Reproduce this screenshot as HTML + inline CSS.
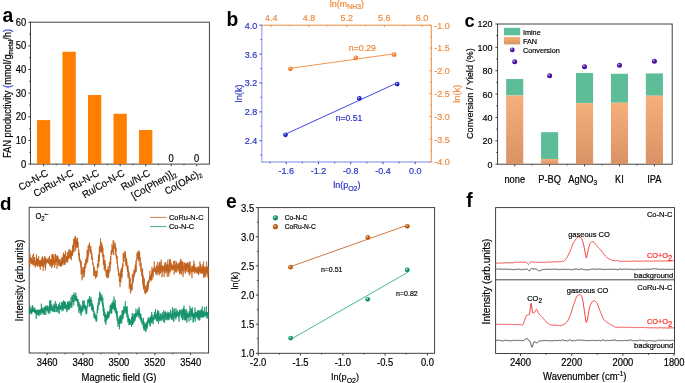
<!DOCTYPE html>
<html><head><meta charset="utf-8"><style>
html,body{margin:0;padding:0;background:#fff;width:685px;height:383px;overflow:hidden}
svg{display:block;font-family:"Liberation Sans", sans-serif}
#w{will-change:transform;background:transparent;width:685px;height:383px}
</style></head><body>
<div id="w"><svg width="685" height="383" viewBox="0 0 685 383">
<defs>
<radialGradient id="gb" cx="0.38" cy="0.35" r="0.65"><stop offset="0" stop-color="#c8c8ff"/><stop offset="0.45" stop-color="#2424c0"/><stop offset="1" stop-color="#2424c0"/></radialGradient>
<radialGradient id="go" cx="0.38" cy="0.35" r="0.65"><stop offset="0" stop-color="#ffe0c0"/><stop offset="0.45" stop-color="#ef8030"/><stop offset="1" stop-color="#ef8030"/></radialGradient>
<radialGradient id="gp" cx="0.38" cy="0.35" r="0.65"><stop offset="0" stop-color="#d8c0ff"/><stop offset="0.45" stop-color="#4a10a0"/><stop offset="1" stop-color="#4a10a0"/></radialGradient>
<radialGradient id="gg" cx="0.38" cy="0.35" r="0.65"><stop offset="0" stop-color="#c0ffe8"/><stop offset="0.45" stop-color="#12906a"/><stop offset="1" stop-color="#12906a"/></radialGradient>
<radialGradient id="gr" cx="0.38" cy="0.35" r="0.65"><stop offset="0" stop-color="#ffd8b0"/><stop offset="0.45" stop-color="#b85a18"/><stop offset="1" stop-color="#b85a18"/></radialGradient>
<linearGradient id="fan" x1="0" y1="0" x2="0" y2="1"><stop offset="0" stop-color="#f6b07c"/><stop offset="1" stop-color="#d99264"/></linearGradient>
</defs>
<text font-size="19.3" text-anchor="start" fill="#000" font-weight="bold" stroke="#000" stroke-width="0" transform="translate(2.50 21.50) scale(1 1.0)">a</text>
<rect x="30.50" y="22.20" width="178.90" height="141.90" fill="none" stroke="#383838" stroke-width="0.95"/>
<line x1="28.30" y1="164.10" x2="30.50" y2="164.10" stroke="#383838" stroke-width="0.95"/>
<text font-size="9.4" text-anchor="end" fill="#000" font-weight="normal" stroke="#000" stroke-width="0.18" transform="translate(26.30 167.70) scale(1 1.08)">0</text>
<line x1="28.30" y1="140.45" x2="30.50" y2="140.45" stroke="#383838" stroke-width="0.95"/>
<text font-size="9.4" text-anchor="end" fill="#000" font-weight="normal" stroke="#000" stroke-width="0.18" transform="translate(26.30 144.05) scale(1 1.08)">10</text>
<line x1="28.30" y1="116.80" x2="30.50" y2="116.80" stroke="#383838" stroke-width="0.95"/>
<text font-size="9.4" text-anchor="end" fill="#000" font-weight="normal" stroke="#000" stroke-width="0.18" transform="translate(26.30 120.40) scale(1 1.08)">20</text>
<line x1="28.30" y1="93.15" x2="30.50" y2="93.15" stroke="#383838" stroke-width="0.95"/>
<text font-size="9.4" text-anchor="end" fill="#000" font-weight="normal" stroke="#000" stroke-width="0.18" transform="translate(26.30 96.75) scale(1 1.08)">30</text>
<line x1="28.30" y1="69.50" x2="30.50" y2="69.50" stroke="#383838" stroke-width="0.95"/>
<text font-size="9.4" text-anchor="end" fill="#000" font-weight="normal" stroke="#000" stroke-width="0.18" transform="translate(26.30 73.10) scale(1 1.08)">40</text>
<line x1="28.30" y1="45.85" x2="30.50" y2="45.85" stroke="#383838" stroke-width="0.95"/>
<text font-size="9.4" text-anchor="end" fill="#000" font-weight="normal" stroke="#000" stroke-width="0.18" transform="translate(26.30 49.45) scale(1 1.08)">50</text>
<line x1="28.30" y1="22.20" x2="30.50" y2="22.20" stroke="#383838" stroke-width="0.95"/>
<text font-size="9.4" text-anchor="end" fill="#000" font-weight="normal" stroke="#000" stroke-width="0.18" transform="translate(26.30 25.80) scale(1 1.08)">60</text>
<line x1="29.20" y1="152.28" x2="30.50" y2="152.28" stroke="#383838" stroke-width="0.95"/>
<line x1="29.20" y1="128.62" x2="30.50" y2="128.62" stroke="#383838" stroke-width="0.95"/>
<line x1="29.20" y1="104.97" x2="30.50" y2="104.97" stroke="#383838" stroke-width="0.95"/>
<line x1="29.20" y1="81.32" x2="30.50" y2="81.32" stroke="#383838" stroke-width="0.95"/>
<line x1="29.20" y1="57.67" x2="30.50" y2="57.67" stroke="#383838" stroke-width="0.95"/>
<line x1="29.20" y1="34.02" x2="30.50" y2="34.02" stroke="#383838" stroke-width="0.95"/>
<rect x="36.95" y="120.11" width="13.30" height="43.99" fill="#ff7f00"/>
<line x1="43.60" y1="164.10" x2="43.60" y2="166.30" stroke="#383838" stroke-width="0.95"/>
<line x1="56.36" y1="164.10" x2="56.36" y2="165.30" stroke="#383838" stroke-width="0.95"/>
<text stroke="#000" stroke-width="0.18" font-size="9.5" text-anchor="end" transform="translate(48.90 175.0) rotate(-30) scale(1 1.08)">Co-N-C</text>
<rect x="62.47" y="51.76" width="13.30" height="112.34" fill="#ff7f00"/>
<line x1="69.12" y1="164.10" x2="69.12" y2="166.30" stroke="#383838" stroke-width="0.95"/>
<line x1="81.88" y1="164.10" x2="81.88" y2="165.30" stroke="#383838" stroke-width="0.95"/>
<text stroke="#000" stroke-width="0.18" font-size="9.5" text-anchor="end" transform="translate(74.42 175.0) rotate(-30) scale(1 1.08)">CoRu-N-C</text>
<rect x="87.99" y="95.04" width="13.30" height="69.06" fill="#ff7f00"/>
<line x1="94.64" y1="164.10" x2="94.64" y2="166.30" stroke="#383838" stroke-width="0.95"/>
<line x1="107.40" y1="164.10" x2="107.40" y2="165.30" stroke="#383838" stroke-width="0.95"/>
<text stroke="#000" stroke-width="0.18" font-size="9.5" text-anchor="end" transform="translate(99.94 175.0) rotate(-30) scale(1 1.08)">Ru-N-C</text>
<rect x="113.51" y="113.73" width="13.30" height="50.37" fill="#ff7f00"/>
<line x1="120.16" y1="164.10" x2="120.16" y2="166.30" stroke="#383838" stroke-width="0.95"/>
<line x1="132.92" y1="164.10" x2="132.92" y2="165.30" stroke="#383838" stroke-width="0.95"/>
<text stroke="#000" stroke-width="0.18" font-size="9.5" text-anchor="end" transform="translate(125.46 175.0) rotate(-30) scale(1 1.08)">Ru/Co-N-C</text>
<rect x="139.03" y="130.04" width="13.30" height="34.06" fill="#ff7f00"/>
<line x1="145.68" y1="164.10" x2="145.68" y2="166.30" stroke="#383838" stroke-width="0.95"/>
<line x1="158.44" y1="164.10" x2="158.44" y2="165.30" stroke="#383838" stroke-width="0.95"/>
<text stroke="#000" stroke-width="0.18" font-size="9.5" text-anchor="end" transform="translate(150.98 175.0) rotate(-30) scale(1 1.08)">Ru/N-C</text>
<text font-size="9.4" text-anchor="middle" fill="#000" font-weight="normal" stroke="#000" stroke-width="0.18" transform="translate(171.20 162.20) scale(1 1.08)">0</text>
<line x1="171.20" y1="164.10" x2="171.20" y2="166.30" stroke="#383838" stroke-width="0.95"/>
<line x1="183.96" y1="164.10" x2="183.96" y2="165.30" stroke="#383838" stroke-width="0.95"/>
<text stroke="#000" stroke-width="0.18" font-size="9.5" text-anchor="end" transform="translate(176.50 175.0) rotate(-30) scale(1 1.08)">[Co(Phen)]<tspan font-size="6" dy="2">2</tspan></text>
<text font-size="9.4" text-anchor="middle" fill="#000" font-weight="normal" stroke="#000" stroke-width="0.18" transform="translate(196.72 162.20) scale(1 1.08)">0</text>
<line x1="196.72" y1="164.10" x2="196.72" y2="166.30" stroke="#383838" stroke-width="0.95"/>
<text stroke="#000" stroke-width="0.18" font-size="9.5" text-anchor="end" transform="translate(202.02 175.0) rotate(-30) scale(1 1.08)">Co(OAc)<tspan font-size="6" dy="2">2</tspan></text>
<text stroke="#000" stroke-width="0.18" font-size="9.3" text-anchor="middle" transform="translate(10.7 93.5) rotate(-90) scale(1 1.08)">FAN productivity <tspan fill="#2020e0" stroke="#2020e0">(</tspan>mmol/g<tspan font-size="6" dy="2">metal</tspan><tspan dy="-2">/h</tspan><tspan fill="#2020e0" stroke="#2020e0">)</tspan></text>
<text font-size="19.3" text-anchor="start" fill="#000" font-weight="bold" stroke="#000" stroke-width="0" transform="translate(226.50 26.10) scale(1 1.0)">b</text>
<line x1="261.80" y1="25.20" x2="431.30" y2="25.20" stroke="#f08a3c" stroke-width="1.0"/>
<line x1="431.30" y1="25.20" x2="431.30" y2="162.00" stroke="#f08a3c" stroke-width="1.0"/>
<line x1="261.80" y1="162.00" x2="431.30" y2="162.00" stroke="#a9b0ec" stroke-width="1.4"/>
<line x1="261.80" y1="24.70" x2="261.80" y2="162.70" stroke="#a9b0ec" stroke-width="1.4"/>
<line x1="259.40" y1="25.20" x2="261.80" y2="25.20" stroke="#2a32c4" stroke-width="0.9"/>
<text font-size="9.0" text-anchor="end" fill="#2a32c4" font-weight="normal" stroke="#2a32c4" stroke-width="0.18" transform="translate(257.30 28.65) scale(1 1.08)">4.0</text>
<line x1="259.40" y1="54.08" x2="261.80" y2="54.08" stroke="#2a32c4" stroke-width="0.9"/>
<text font-size="9.0" text-anchor="end" fill="#2a32c4" font-weight="normal" stroke="#2a32c4" stroke-width="0.18" transform="translate(257.30 57.53) scale(1 1.08)">3.6</text>
<line x1="259.40" y1="82.96" x2="261.80" y2="82.96" stroke="#2a32c4" stroke-width="0.9"/>
<text font-size="9.0" text-anchor="end" fill="#2a32c4" font-weight="normal" stroke="#2a32c4" stroke-width="0.18" transform="translate(257.30 86.41) scale(1 1.08)">3.2</text>
<line x1="259.40" y1="111.84" x2="261.80" y2="111.84" stroke="#2a32c4" stroke-width="0.9"/>
<text font-size="9.0" text-anchor="end" fill="#2a32c4" font-weight="normal" stroke="#2a32c4" stroke-width="0.18" transform="translate(257.30 115.29) scale(1 1.08)">2.8</text>
<line x1="259.40" y1="140.72" x2="261.80" y2="140.72" stroke="#2a32c4" stroke-width="0.9"/>
<text font-size="9.0" text-anchor="end" fill="#2a32c4" font-weight="normal" stroke="#2a32c4" stroke-width="0.18" transform="translate(257.30 144.17) scale(1 1.08)">2.4</text>
<line x1="260.50" y1="39.64" x2="261.80" y2="39.64" stroke="#2a32c4" stroke-width="0.9"/>
<line x1="260.50" y1="68.52" x2="261.80" y2="68.52" stroke="#2a32c4" stroke-width="0.9"/>
<line x1="260.50" y1="97.40" x2="261.80" y2="97.40" stroke="#2a32c4" stroke-width="0.9"/>
<line x1="260.50" y1="126.28" x2="261.80" y2="126.28" stroke="#2a32c4" stroke-width="0.9"/>
<line x1="260.50" y1="155.16" x2="261.80" y2="155.16" stroke="#2a32c4" stroke-width="0.9"/>
<line x1="286.24" y1="162.00" x2="286.24" y2="164.20" stroke="#2a32c4" stroke-width="0.9"/>
<text font-size="9.0" text-anchor="middle" fill="#2a32c4" font-weight="normal" stroke="#2a32c4" stroke-width="0.18" transform="translate(286.24 173.75) scale(1 1.08)">-1.6</text>
<line x1="318.48" y1="162.00" x2="318.48" y2="164.20" stroke="#2a32c4" stroke-width="0.9"/>
<text font-size="9.0" text-anchor="middle" fill="#2a32c4" font-weight="normal" stroke="#2a32c4" stroke-width="0.18" transform="translate(318.48 173.75) scale(1 1.08)">-1.2</text>
<line x1="350.72" y1="162.00" x2="350.72" y2="164.20" stroke="#2a32c4" stroke-width="0.9"/>
<text font-size="9.0" text-anchor="middle" fill="#2a32c4" font-weight="normal" stroke="#2a32c4" stroke-width="0.18" transform="translate(350.72 173.75) scale(1 1.08)">-0.8</text>
<line x1="382.96" y1="162.00" x2="382.96" y2="164.20" stroke="#2a32c4" stroke-width="0.9"/>
<text font-size="9.0" text-anchor="middle" fill="#2a32c4" font-weight="normal" stroke="#2a32c4" stroke-width="0.18" transform="translate(382.96 173.75) scale(1 1.08)">-0.4</text>
<line x1="415.20" y1="162.00" x2="415.20" y2="164.20" stroke="#2a32c4" stroke-width="0.9"/>
<text font-size="9.0" text-anchor="middle" fill="#2a32c4" font-weight="normal" stroke="#2a32c4" stroke-width="0.18" transform="translate(415.20 173.75) scale(1 1.08)">0.0</text>
<line x1="270.12" y1="162.00" x2="270.12" y2="163.30" stroke="#2a32c4" stroke-width="0.9"/>
<line x1="302.36" y1="162.00" x2="302.36" y2="163.30" stroke="#2a32c4" stroke-width="0.9"/>
<line x1="334.60" y1="162.00" x2="334.60" y2="163.30" stroke="#2a32c4" stroke-width="0.9"/>
<line x1="366.84" y1="162.00" x2="366.84" y2="163.30" stroke="#2a32c4" stroke-width="0.9"/>
<line x1="399.08" y1="162.00" x2="399.08" y2="163.30" stroke="#2a32c4" stroke-width="0.9"/>
<line x1="271.20" y1="25.20" x2="271.20" y2="27.20" stroke="#f08a3c" stroke-width="0.9"/>
<text font-size="9.0" text-anchor="middle" fill="#f08a3c" font-weight="normal" stroke="#f08a3c" stroke-width="0.18" transform="translate(271.20 20.95) scale(1 1.08)">4.4</text>
<line x1="308.92" y1="25.20" x2="308.92" y2="27.20" stroke="#f08a3c" stroke-width="0.9"/>
<text font-size="9.0" text-anchor="middle" fill="#f08a3c" font-weight="normal" stroke="#f08a3c" stroke-width="0.18" transform="translate(308.92 20.95) scale(1 1.08)">4.8</text>
<line x1="346.64" y1="25.20" x2="346.64" y2="27.20" stroke="#f08a3c" stroke-width="0.9"/>
<text font-size="9.0" text-anchor="middle" fill="#f08a3c" font-weight="normal" stroke="#f08a3c" stroke-width="0.18" transform="translate(346.64 20.95) scale(1 1.08)">5.2</text>
<line x1="384.36" y1="25.20" x2="384.36" y2="27.20" stroke="#f08a3c" stroke-width="0.9"/>
<text font-size="9.0" text-anchor="middle" fill="#f08a3c" font-weight="normal" stroke="#f08a3c" stroke-width="0.18" transform="translate(384.36 20.95) scale(1 1.08)">5.6</text>
<line x1="422.08" y1="25.20" x2="422.08" y2="27.20" stroke="#f08a3c" stroke-width="0.9"/>
<text font-size="9.0" text-anchor="middle" fill="#f08a3c" font-weight="normal" stroke="#f08a3c" stroke-width="0.18" transform="translate(422.08 20.95) scale(1 1.08)">6.0</text>
<line x1="290.06" y1="25.20" x2="290.06" y2="26.50" stroke="#f08a3c" stroke-width="0.9"/>
<line x1="327.78" y1="25.20" x2="327.78" y2="26.50" stroke="#f08a3c" stroke-width="0.9"/>
<line x1="365.50" y1="25.20" x2="365.50" y2="26.50" stroke="#f08a3c" stroke-width="0.9"/>
<line x1="403.22" y1="25.20" x2="403.22" y2="26.50" stroke="#f08a3c" stroke-width="0.9"/>
<line x1="429.30" y1="25.20" x2="431.30" y2="25.20" stroke="#f08a3c" stroke-width="0.9"/>
<text font-size="9.0" text-anchor="start" fill="#f08a3c" font-weight="normal" stroke="#f08a3c" stroke-width="0.18" transform="translate(434.30 28.65) scale(1 1.08)">-1.0</text>
<line x1="430.00" y1="36.60" x2="431.30" y2="36.60" stroke="#f08a3c" stroke-width="0.9"/>
<line x1="429.30" y1="48.00" x2="431.30" y2="48.00" stroke="#f08a3c" stroke-width="0.9"/>
<text font-size="9.0" text-anchor="start" fill="#f08a3c" font-weight="normal" stroke="#f08a3c" stroke-width="0.18" transform="translate(434.30 51.45) scale(1 1.08)">-1.5</text>
<line x1="430.00" y1="59.40" x2="431.30" y2="59.40" stroke="#f08a3c" stroke-width="0.9"/>
<line x1="429.30" y1="70.80" x2="431.30" y2="70.80" stroke="#f08a3c" stroke-width="0.9"/>
<text font-size="9.0" text-anchor="start" fill="#f08a3c" font-weight="normal" stroke="#f08a3c" stroke-width="0.18" transform="translate(434.30 74.25) scale(1 1.08)">-2.0</text>
<line x1="430.00" y1="82.20" x2="431.30" y2="82.20" stroke="#f08a3c" stroke-width="0.9"/>
<line x1="429.30" y1="93.60" x2="431.30" y2="93.60" stroke="#f08a3c" stroke-width="0.9"/>
<text font-size="9.0" text-anchor="start" fill="#f08a3c" font-weight="normal" stroke="#f08a3c" stroke-width="0.18" transform="translate(434.30 97.05) scale(1 1.08)">-2.5</text>
<line x1="430.00" y1="105.00" x2="431.30" y2="105.00" stroke="#f08a3c" stroke-width="0.9"/>
<line x1="429.30" y1="116.40" x2="431.30" y2="116.40" stroke="#f08a3c" stroke-width="0.9"/>
<text font-size="9.0" text-anchor="start" fill="#f08a3c" font-weight="normal" stroke="#f08a3c" stroke-width="0.18" transform="translate(434.30 119.85) scale(1 1.08)">-3.0</text>
<line x1="430.00" y1="127.80" x2="431.30" y2="127.80" stroke="#f08a3c" stroke-width="0.9"/>
<line x1="429.30" y1="139.20" x2="431.30" y2="139.20" stroke="#f08a3c" stroke-width="0.9"/>
<text font-size="9.0" text-anchor="start" fill="#f08a3c" font-weight="normal" stroke="#f08a3c" stroke-width="0.18" transform="translate(434.30 142.65) scale(1 1.08)">-3.5</text>
<line x1="430.00" y1="150.60" x2="431.30" y2="150.60" stroke="#f08a3c" stroke-width="0.9"/>
<line x1="429.30" y1="162.00" x2="431.30" y2="162.00" stroke="#f08a3c" stroke-width="0.9"/>
<text font-size="9.0" text-anchor="start" fill="#f08a3c" font-weight="normal" stroke="#f08a3c" stroke-width="0.18" transform="translate(434.30 165.45) scale(1 1.08)">-4.0</text>
<text font-size="9.0" text-anchor="middle" fill="#f08a3c" font-weight="normal" stroke="#f08a3c" stroke-width="0.18" transform="translate(346.90 6.90) scale(1 1.08)">ln(m<tspan font-size="6.8" dy="2.0">NH3</tspan><tspan dy="-2.0">)</tspan></text>
<text font-size="9.0" text-anchor="middle" fill="#2a32c4" font-weight="normal" stroke="#2a32c4" stroke-width="0.18" transform="translate(346.80 187.80) scale(1 1.08)">ln(p<tspan font-size="7" dy="2.5">O2</tspan><tspan dy="-2.5">)</tspan></text>
<text stroke="#2a32c4" stroke-width="0.18" font-size="9.3" text-anchor="middle" fill="#2a32c4" transform="translate(241.6 93.4) rotate(-90)">ln(k)</text>
<text stroke="#f08a3c" stroke-width="0.18" font-size="9.3" text-anchor="middle" fill="#f08a3c" transform="translate(459.6 93.8) rotate(-90)">ln(k)</text>
<line x1="285.50" y1="134.17" x2="397.20" y2="82.86" stroke="#2a32e0" stroke-width="0.9"/>
<line x1="290.40" y1="68.29" x2="394.20" y2="53.83" stroke="#f08a3c" stroke-width="0.9"/>
<circle cx="285.50" cy="134.80" r="2.4" fill="url(#gb)"/>
<circle cx="359.30" cy="98.40" r="2.4" fill="url(#gb)"/>
<circle cx="397.20" cy="84.10" r="2.4" fill="url(#gb)"/>
<circle cx="290.40" cy="68.80" r="2.4" fill="url(#go)"/>
<circle cx="355.80" cy="57.80" r="2.4" fill="url(#go)"/>
<circle cx="394.20" cy="54.70" r="2.4" fill="url(#go)"/>
<text font-size="8.8" text-anchor="start" fill="#f08a3c" font-weight="normal" stroke="#f08a3c" stroke-width="0.18" transform="translate(348.80 50.96) scale(1 1.08)">n=0.29</text>
<text font-size="8.6" text-anchor="start" fill="#2a32c4" font-weight="normal" stroke="#2a32c4" stroke-width="0.18" transform="translate(335.70 121.26) scale(1 1.08)">n=0.51</text>
<text font-size="18.4" text-anchor="start" fill="#000" font-weight="bold" stroke="#000" stroke-width="0" transform="translate(464.40 26.50) scale(1 1.0)">c</text>
<rect x="497.60" y="24.00" width="174.60" height="140.20" fill="none" stroke="#383838" stroke-width="0.95"/>
<line x1="495.40" y1="164.20" x2="497.60" y2="164.20" stroke="#383838" stroke-width="0.95"/>
<text font-size="9.0" text-anchor="end" fill="#000" font-weight="normal" stroke="#000" stroke-width="0.18" transform="translate(492.40 167.65) scale(1 1.08)">0</text>
<line x1="495.40" y1="140.83" x2="497.60" y2="140.83" stroke="#383838" stroke-width="0.95"/>
<text font-size="9.0" text-anchor="end" fill="#000" font-weight="normal" stroke="#000" stroke-width="0.18" transform="translate(492.40 144.28) scale(1 1.08)">20</text>
<line x1="495.40" y1="117.47" x2="497.60" y2="117.47" stroke="#383838" stroke-width="0.95"/>
<text font-size="9.0" text-anchor="end" fill="#000" font-weight="normal" stroke="#000" stroke-width="0.18" transform="translate(492.40 120.92) scale(1 1.08)">40</text>
<line x1="495.40" y1="94.10" x2="497.60" y2="94.10" stroke="#383838" stroke-width="0.95"/>
<text font-size="9.0" text-anchor="end" fill="#000" font-weight="normal" stroke="#000" stroke-width="0.18" transform="translate(492.40 97.55) scale(1 1.08)">60</text>
<line x1="495.40" y1="70.73" x2="497.60" y2="70.73" stroke="#383838" stroke-width="0.95"/>
<text font-size="9.0" text-anchor="end" fill="#000" font-weight="normal" stroke="#000" stroke-width="0.18" transform="translate(492.40 74.18) scale(1 1.08)">80</text>
<line x1="495.40" y1="47.37" x2="497.60" y2="47.37" stroke="#383838" stroke-width="0.95"/>
<text font-size="9.0" text-anchor="end" fill="#000" font-weight="normal" stroke="#000" stroke-width="0.18" transform="translate(492.40 50.82) scale(1 1.08)">100</text>
<line x1="495.40" y1="24.00" x2="497.60" y2="24.00" stroke="#383838" stroke-width="0.95"/>
<text font-size="9.0" text-anchor="end" fill="#000" font-weight="normal" stroke="#000" stroke-width="0.18" transform="translate(492.40 27.45) scale(1 1.08)">120</text>
<line x1="496.30" y1="152.52" x2="497.60" y2="152.52" stroke="#383838" stroke-width="0.95"/>
<line x1="496.30" y1="129.15" x2="497.60" y2="129.15" stroke="#383838" stroke-width="0.95"/>
<line x1="496.30" y1="105.78" x2="497.60" y2="105.78" stroke="#383838" stroke-width="0.95"/>
<line x1="496.30" y1="82.42" x2="497.60" y2="82.42" stroke="#383838" stroke-width="0.95"/>
<line x1="496.30" y1="59.05" x2="497.60" y2="59.05" stroke="#383838" stroke-width="0.95"/>
<line x1="496.30" y1="35.68" x2="497.60" y2="35.68" stroke="#383838" stroke-width="0.95"/>
<rect x="506.16" y="79.03" width="17.10" height="16.47" fill="#5dbd98"/>
<rect x="506.16" y="95.50" width="17.10" height="68.70" fill="url(#fan)"/>
<circle cx="514.71" cy="61.74" r="2.5" fill="url(#gp)"/>
<line x1="514.71" y1="164.20" x2="514.71" y2="166.40" stroke="#383838" stroke-width="0.95"/>
<line x1="532.17" y1="164.20" x2="532.17" y2="165.40" stroke="#383838" stroke-width="0.95"/>
<text font-size="9.3" text-anchor="middle" fill="#000" font-weight="normal" stroke="#000" stroke-width="0.18" transform="translate(514.71 182.80) scale(1 1.08)">none</text>
<rect x="541.08" y="132.19" width="17.10" height="26.75" fill="#5dbd98"/>
<rect x="541.08" y="158.94" width="17.10" height="5.26" fill="url(#fan)"/>
<circle cx="549.63" cy="75.87" r="2.5" fill="url(#gp)"/>
<line x1="549.63" y1="164.20" x2="549.63" y2="166.40" stroke="#383838" stroke-width="0.95"/>
<line x1="567.09" y1="164.20" x2="567.09" y2="165.40" stroke="#383838" stroke-width="0.95"/>
<text font-size="9.3" text-anchor="middle" fill="#000" font-weight="normal" stroke="#000" stroke-width="0.18" transform="translate(549.63 182.80) scale(1 1.08)">P-BQ</text>
<rect x="576.00" y="72.95" width="17.10" height="30.14" fill="#5dbd98"/>
<rect x="576.00" y="103.10" width="17.10" height="61.10" fill="url(#fan)"/>
<circle cx="584.55" cy="66.64" r="2.5" fill="url(#gp)"/>
<line x1="584.55" y1="164.20" x2="584.55" y2="166.40" stroke="#383838" stroke-width="0.95"/>
<line x1="602.01" y1="164.20" x2="602.01" y2="165.40" stroke="#383838" stroke-width="0.95"/>
<text font-size="9.3" text-anchor="middle" fill="#000" font-weight="normal" stroke="#000" stroke-width="0.18" transform="translate(582.75 182.80) scale(1 1.08)">AgNO<tspan font-size="6.5" dy="2.2">3</tspan></text>
<rect x="610.92" y="73.77" width="17.10" height="28.97" fill="#5dbd98"/>
<rect x="610.92" y="102.75" width="17.10" height="61.45" fill="url(#fan)"/>
<circle cx="619.47" cy="65.24" r="2.5" fill="url(#gp)"/>
<line x1="619.47" y1="164.20" x2="619.47" y2="166.40" stroke="#383838" stroke-width="0.95"/>
<line x1="636.93" y1="164.20" x2="636.93" y2="165.40" stroke="#383838" stroke-width="0.95"/>
<text font-size="9.3" text-anchor="middle" fill="#000" font-weight="normal" stroke="#000" stroke-width="0.18" transform="translate(619.47 182.80) scale(1 1.08)">KI</text>
<rect x="645.84" y="73.42" width="17.10" height="22.32" fill="#5dbd98"/>
<rect x="645.84" y="95.74" width="17.10" height="68.46" fill="url(#fan)"/>
<circle cx="654.39" cy="61.15" r="2.5" fill="url(#gp)"/>
<line x1="654.39" y1="164.20" x2="654.39" y2="166.40" stroke="#383838" stroke-width="0.95"/>
<text font-size="9.3" text-anchor="middle" fill="#000" font-weight="normal" stroke="#000" stroke-width="0.18" transform="translate(654.39 182.80) scale(1 1.08)">IPA</text>
<rect x="504.00" y="27.80" width="16.20" height="7.50" fill="#5dbd98"/>
<rect x="504.0" y="36.9" width="16.2" height="7.5" fill="url(#fan)"/>
<circle cx="512.30" cy="49.90" r="2.4" fill="url(#gp)"/>
<text font-size="7.3" text-anchor="start" fill="#000" font-weight="normal" stroke="#000" stroke-width="0.18" transform="translate(522.90 34.60) scale(1 1.08)">Imine</text>
<text font-size="7.3" text-anchor="start" fill="#000" font-weight="normal" stroke="#000" stroke-width="0.18" transform="translate(522.90 43.50) scale(1 1.08)">FAN</text>
<text font-size="7.3" text-anchor="start" fill="#000" font-weight="normal" stroke="#000" stroke-width="0.18" transform="translate(522.90 52.90) scale(1 1.08)">Conversion</text>
<text stroke="#000" stroke-width="0.18" font-size="9.2" text-anchor="middle" transform="translate(472.6 93.6) rotate(-90) scale(1 1.08)">Conversion / Yield (%)</text>
<text font-size="18.8" text-anchor="start" fill="#000" font-weight="bold" stroke="#000" stroke-width="0" transform="translate(0.00 210.00) scale(1 1.0)">d</text>
<rect x="29.20" y="207.30" width="179.40" height="145.70" fill="none" stroke="#383838" stroke-width="0.95"/>
<line x1="47.14" y1="353.00" x2="47.14" y2="355.20" stroke="#383838" stroke-width="0.95"/>
<text font-size="9.4" text-anchor="middle" fill="#000" font-weight="normal" stroke="#000" stroke-width="0.18" transform="translate(47.14 365.80) scale(1 1.08)">3460</text>
<line x1="83.02" y1="353.00" x2="83.02" y2="355.20" stroke="#383838" stroke-width="0.95"/>
<text font-size="9.4" text-anchor="middle" fill="#000" font-weight="normal" stroke="#000" stroke-width="0.18" transform="translate(83.02 365.80) scale(1 1.08)">3480</text>
<line x1="118.90" y1="353.00" x2="118.90" y2="355.20" stroke="#383838" stroke-width="0.95"/>
<text font-size="9.4" text-anchor="middle" fill="#000" font-weight="normal" stroke="#000" stroke-width="0.18" transform="translate(118.90 365.80) scale(1 1.08)">3500</text>
<line x1="154.78" y1="353.00" x2="154.78" y2="355.20" stroke="#383838" stroke-width="0.95"/>
<text font-size="9.4" text-anchor="middle" fill="#000" font-weight="normal" stroke="#000" stroke-width="0.18" transform="translate(154.78 365.80) scale(1 1.08)">3520</text>
<line x1="190.66" y1="353.00" x2="190.66" y2="355.20" stroke="#383838" stroke-width="0.95"/>
<text font-size="9.4" text-anchor="middle" fill="#000" font-weight="normal" stroke="#000" stroke-width="0.18" transform="translate(190.66 365.80) scale(1 1.08)">3540</text>
<line x1="65.08" y1="353.00" x2="65.08" y2="354.30" stroke="#383838" stroke-width="0.95"/>
<line x1="100.96" y1="353.00" x2="100.96" y2="354.30" stroke="#383838" stroke-width="0.95"/>
<line x1="136.84" y1="353.00" x2="136.84" y2="354.30" stroke="#383838" stroke-width="0.95"/>
<line x1="172.72" y1="353.00" x2="172.72" y2="354.30" stroke="#383838" stroke-width="0.95"/>
<text font-size="9.5" text-anchor="middle" fill="#000" font-weight="normal" stroke="#000" stroke-width="0.18" transform="translate(119.00 381.00) scale(1 1.08)">Magnetic field (G)</text>
<text stroke="#000" stroke-width="0.18" font-size="9.6" text-anchor="middle" transform="translate(23.0 280.4) rotate(-90) scale(1 1.08)">Intensity (arb.units)</text>
<text font-size="7.6" text-anchor="start" fill="#000" font-weight="normal" stroke="#000" stroke-width="0.18" transform="translate(35.40 218.90) scale(1 1.08)">O<tspan font-size="6" dy="2.2">2</tspan><tspan font-size="4.6" dx="-0.2" dy="-5.0">•−</tspan></text>
<line x1="149.90" y1="217.40" x2="166.50" y2="217.40" stroke="#c0621c" stroke-width="0.8"/>
<line x1="149.90" y1="226.60" x2="166.50" y2="226.60" stroke="#14926c" stroke-width="0.8"/>
<text font-size="7.4" text-anchor="start" fill="#000" font-weight="normal" stroke="#000" stroke-width="0.18" transform="translate(169.00 220.04) scale(1 1.08)">CoRu-N-C</text>
<text font-size="7.4" text-anchor="start" fill="#000" font-weight="normal" stroke="#000" stroke-width="0.18" transform="translate(169.00 229.24) scale(1 1.08)">Co-N-C</text>
<path d="M29.40,263.04 L29.50,260.41 L29.60,263.20 L29.70,261.67 L29.80,263.46 L29.90,266.08 L30.00,254.06 L30.10,261.46 L30.20,262.76 L30.30,260.71 L30.39,257.37 L30.49,260.44 L30.59,262.19 L30.69,261.95 L30.79,259.02 L30.89,258.83 L30.99,260.98 L31.09,258.74 L31.19,261.71 L31.29,263.28 L31.39,262.56 L31.49,257.64 L31.59,263.64 L31.69,259.75 L31.79,260.08 L31.89,263.85 L31.99,261.10 L32.09,260.79 L32.19,260.48 L32.29,260.45 L32.38,261.54 L32.48,264.62 L32.58,258.43 L32.68,255.30 L32.78,262.13 L32.88,260.62 L32.98,261.41 L33.08,263.88 L33.18,261.95 L33.28,259.89 L33.38,262.05 L33.48,253.29 L33.58,257.05 L33.68,264.71 L33.78,262.48 L33.88,265.94 L33.98,261.15 L34.08,260.09 L34.18,259.04 L34.28,261.75 L34.37,259.90 L34.47,262.31 L34.57,257.29 L34.67,259.82 L34.77,261.58 L34.87,262.12 L34.97,265.01 L35.07,261.18 L35.17,262.65 L35.27,267.78 L35.37,262.83 L35.47,264.78 L35.57,263.08 L35.67,264.01 L35.77,264.76 L35.87,263.77 L35.97,265.96 L36.07,260.46 L36.17,264.49 L36.27,256.97 L36.36,260.25 L36.46,254.51 L36.56,263.27 L36.66,259.21 L36.76,258.60 L36.86,263.62 L36.96,260.79 L37.06,264.20 L37.16,263.81 L37.26,265.80 L37.36,258.49 L37.46,263.36 L37.56,266.77 L37.66,258.86 L37.76,260.61 L37.86,263.22 L37.96,265.92 L38.06,262.51 L38.16,264.25 L38.26,264.59 L38.35,259.20 L38.45,260.64 L38.55,261.81 L38.65,256.10 L38.75,263.61 L38.85,262.96 L38.95,263.10 L39.05,262.08 L39.15,265.28 L39.25,262.86 L39.35,267.19 L39.45,261.75 L39.55,265.13 L39.65,260.01 L39.75,261.94 L39.85,263.67 L39.95,261.61 L40.05,264.63 L40.15,265.62 L40.25,263.48 L40.34,269.81 L40.44,260.53 L40.54,261.03 L40.64,265.56 L40.74,264.18 L40.84,260.40 L40.94,266.63 L41.04,260.75 L41.14,263.00 L41.24,262.64 L41.34,263.28 L41.44,265.22 L41.54,265.96 L41.64,265.45 L41.74,257.85 L41.84,264.35 L41.94,260.15 L42.04,262.55 L42.14,260.69 L42.24,266.32 L42.33,262.47 L42.43,256.51 L42.53,262.21 L42.63,256.65 L42.73,264.43 L42.83,263.97 L42.93,265.28 L43.03,266.38 L43.13,261.92 L43.23,271.02 L43.33,261.21 L43.43,262.16 L43.53,265.76 L43.63,261.20 L43.73,260.93 L43.83,258.45 L43.93,267.19 L44.03,259.79 L44.13,261.29 L44.23,263.32 L44.32,264.27 L44.42,262.08 L44.52,262.18 L44.62,262.00 L44.72,255.96 L44.82,262.35 L44.92,258.23 L45.02,263.75 L45.12,264.34 L45.22,258.13 L45.32,268.20 L45.42,262.28 L45.52,270.26 L45.62,257.32 L45.72,265.38 L45.82,261.62 L45.92,264.25 L46.02,258.85 L46.12,260.19 L46.22,260.27 L46.31,260.93 L46.41,261.50 L46.51,261.74 L46.61,261.11 L46.71,259.48 L46.81,259.23 L46.91,262.57 L47.01,259.01 L47.11,262.38 L47.21,262.15 L47.31,259.68 L47.41,262.07 L47.51,259.98 L47.61,260.02 L47.71,262.09 L47.81,260.32 L47.91,262.45 L48.01,262.70 L48.11,262.94 L48.21,257.41 L48.30,263.69 L48.40,263.67 L48.50,262.85 L48.60,259.91 L48.70,261.34 L48.80,260.51 L48.90,259.18 L49.00,261.22 L49.10,261.05 L49.20,264.09 L49.30,262.96 L49.40,263.33 L49.50,256.30 L49.60,255.72 L49.70,264.30 L49.80,262.21 L49.90,261.99 L50.00,265.82 L50.10,263.16 L50.20,262.39 L50.29,262.06 L50.39,266.40 L50.49,259.54 L50.59,264.13 L50.69,259.96 L50.79,259.02 L50.89,264.00 L50.99,261.90 L51.09,260.37 L51.19,264.70 L51.29,263.07 L51.39,263.18 L51.49,261.60 L51.59,268.17 L51.69,266.88 L51.79,262.50 L51.89,254.10 L51.99,259.74 L52.09,263.78 L52.19,258.89 L52.28,264.80 L52.38,260.26 L52.48,254.51 L52.58,266.59 L52.68,262.42 L52.78,260.15 L52.88,263.20 L52.98,264.98 L53.08,256.22 L53.18,261.96 L53.28,256.65 L53.38,260.00 L53.48,256.53 L53.58,263.27 L53.68,254.58 L53.78,260.13 L53.88,263.27 L53.98,261.05 L54.08,259.22 L54.18,261.05 L54.27,264.20 L54.37,265.46 L54.47,260.45 L54.57,260.70 L54.67,267.89 L54.77,262.37 L54.87,260.66 L54.97,261.41 L55.07,261.26 L55.17,254.00 L55.27,262.35 L55.37,257.03 L55.47,259.19 L55.57,253.80 L55.67,258.35 L55.77,264.84 L55.87,256.99 L55.97,261.59 L56.07,259.42 L56.17,259.83 L56.26,261.76 L56.36,260.91 L56.46,255.77 L56.56,261.06 L56.66,260.48 L56.76,259.32 L56.86,260.42 L56.96,258.07 L57.06,268.87 L57.16,258.09 L57.26,258.79 L57.36,256.99 L57.46,255.40 L57.56,259.16 L57.66,262.35 L57.76,258.29 L57.86,256.02 L57.96,260.77 L58.06,263.81 L58.16,266.03 L58.25,260.45 L58.35,258.21 L58.45,261.13 L58.55,262.30 L58.65,263.32 L58.75,262.62 L58.85,259.37 L58.95,264.53 L59.05,261.63 L59.15,259.04 L59.25,259.45 L59.35,259.88 L59.45,264.48 L59.55,261.93 L59.65,262.82 L59.75,265.56 L59.85,263.18 L59.95,264.52 L60.05,259.04 L60.15,264.67 L60.24,265.96 L60.34,262.15 L60.44,266.97 L60.54,266.46 L60.64,261.75 L60.74,261.44 L60.84,260.76 L60.94,260.56 L61.04,262.56 L61.14,265.89 L61.24,265.85 L61.34,261.06 L61.44,266.36 L61.54,260.61 L61.64,264.94 L61.74,264.67 L61.84,257.17 L61.94,265.51 L62.04,263.71 L62.14,257.40 L62.23,261.43 L62.33,264.32 L62.43,262.49 L62.53,260.63 L62.63,259.26 L62.73,262.93 L62.83,262.48 L62.93,261.74 L63.03,258.71 L63.13,260.71 L63.23,254.75 L63.33,261.32 L63.43,259.47 L63.53,252.64 L63.63,258.15 L63.73,263.24 L63.83,259.25 L63.93,265.07 L64.03,258.05 L64.13,262.66 L64.22,254.14 L64.32,258.99 L64.42,256.20 L64.52,264.69 L64.62,258.96 L64.72,258.00 L64.82,257.71 L64.92,254.61 L65.02,257.98 L65.12,264.59 L65.22,263.73 L65.32,259.06 L65.42,250.85 L65.52,258.78 L65.62,258.74 L65.72,258.91 L65.82,259.53 L65.92,260.79 L66.02,262.26 L66.12,259.75 L66.21,256.60 L66.31,258.39 L66.41,262.20 L66.51,256.30 L66.61,259.29 L66.71,260.44 L66.81,258.70 L66.91,256.88 L67.01,256.27 L67.11,259.32 L67.21,252.61 L67.31,252.16 L67.41,260.94 L67.51,262.39 L67.61,256.82 L67.71,261.84 L67.81,260.44 L67.91,258.06 L68.01,257.98 L68.11,252.08 L68.20,257.15 L68.30,255.63 L68.40,255.21 L68.50,254.23 L68.60,259.18 L68.70,249.74 L68.80,250.33 L68.90,255.90 L69.00,256.80 L69.10,255.98 L69.20,256.70 L69.30,254.82 L69.40,257.93 L69.50,255.14 L69.60,256.37 L69.70,249.14 L69.80,257.77 L69.90,255.07 L70.00,255.02 L70.10,254.83 L70.19,251.17 L70.29,259.06 L70.39,256.90 L70.49,253.38 L70.59,256.53 L70.69,257.19 L70.79,250.39 L70.89,253.74 L70.99,252.64 L71.09,254.77 L71.19,257.04 L71.29,252.00 L71.39,257.72 L71.49,260.12 L71.59,253.97 L71.69,255.81 L71.79,253.41 L71.89,253.63 L71.99,250.97 L72.09,251.81 L72.18,255.21 L72.28,250.45 L72.38,255.24 L72.48,255.80 L72.58,245.77 L72.68,249.47 L72.78,254.43 L72.88,249.49 L72.98,248.13 L73.08,244.73 L73.18,249.25 L73.28,252.21 L73.38,246.58 L73.48,239.00 L73.58,251.36 L73.68,244.09 L73.78,246.39 L73.88,247.71 L73.98,249.21 L74.08,251.89 L74.17,245.86 L74.27,246.61 L74.37,245.10 L74.47,240.66 L74.57,237.51 L74.67,244.81 L74.77,242.58 L74.87,243.15 L74.97,238.15 L75.07,244.63 L75.17,244.40 L75.27,244.51 L75.37,242.04 L75.47,235.78 L75.57,250.94 L75.67,239.42 L75.77,244.55 L75.87,243.85 L75.97,248.32 L76.07,239.90 L76.16,246.25 L76.26,240.57 L76.36,241.91 L76.46,241.34 L76.56,241.24 L76.66,240.80 L76.76,240.52 L76.86,247.70 L76.96,237.97 L77.06,244.22 L77.16,241.12 L77.26,245.21 L77.36,245.39 L77.46,237.64 L77.56,242.93 L77.66,246.25 L77.76,242.28 L77.86,247.71 L77.96,242.84 L78.06,242.30 L78.15,244.12 L78.25,247.89 L78.35,249.23 L78.45,248.89 L78.55,250.62 L78.65,255.18 L78.75,250.13 L78.85,249.70 L78.95,254.03 L79.05,253.37 L79.15,259.13 L79.25,253.34 L79.35,260.62 L79.45,254.04 L79.55,255.26 L79.65,261.17 L79.75,259.29 L79.85,259.63 L79.95,261.60 L80.05,261.80 L80.14,262.43 L80.24,259.39 L80.34,264.20 L80.44,265.50 L80.54,263.68 L80.64,260.76 L80.74,261.31 L80.84,266.03 L80.94,267.21 L81.04,266.24 L81.14,274.25 L81.24,265.35 L81.34,261.37 L81.44,268.72 L81.54,267.98 L81.64,274.49 L81.74,270.98 L81.84,271.59 L81.94,271.08 L82.04,280.32 L82.13,274.43 L82.23,270.67 L82.33,269.58 L82.43,273.73 L82.53,272.96 L82.63,272.20 L82.73,270.63 L82.83,267.11 L82.93,270.68 L83.03,272.83 L83.13,275.72 L83.23,277.92 L83.33,276.74 L83.43,273.63 L83.53,269.37 L83.63,268.83 L83.73,269.35 L83.83,269.38 L83.93,272.40 L84.03,267.14 L84.12,273.96 L84.22,274.37 L84.32,266.01 L84.42,276.68 L84.52,267.49 L84.62,269.16 L84.72,272.28 L84.82,263.48 L84.92,265.57 L85.02,265.54 L85.12,265.69 L85.22,263.40 L85.32,264.51 L85.42,265.08 L85.52,268.44 L85.62,268.45 L85.72,259.82 L85.82,262.03 L85.92,265.46 L86.02,260.81 L86.11,259.03 L86.21,263.55 L86.31,258.53 L86.41,264.10 L86.51,260.09 L86.61,262.12 L86.71,262.45 L86.81,258.65 L86.91,256.89 L87.01,259.02 L87.11,250.14 L87.21,253.81 L87.31,258.07 L87.41,250.62 L87.51,257.72 L87.61,262.64 L87.71,252.61 L87.81,259.58 L87.91,255.66 L88.01,257.23 L88.10,245.86 L88.20,251.14 L88.30,250.45 L88.40,253.69 L88.50,255.70 L88.60,253.44 L88.70,249.04 L88.80,250.24 L88.90,245.62 L89.00,250.11 L89.10,246.74 L89.20,244.03 L89.30,246.53 L89.40,244.47 L89.50,242.59 L89.60,245.29 L89.70,244.99 L89.80,248.41 L89.90,246.72 L90.00,251.64 L90.09,252.37 L90.19,253.55 L90.29,251.03 L90.39,252.53 L90.49,249.05 L90.59,252.42 L90.69,247.43 L90.79,246.11 L90.89,246.40 L90.99,251.25 L91.09,252.54 L91.19,249.64 L91.29,251.78 L91.39,254.61 L91.49,253.67 L91.59,253.19 L91.69,258.38 L91.79,253.64 L91.89,253.22 L91.99,254.86 L92.08,259.99 L92.18,257.92 L92.28,259.24 L92.38,258.16 L92.48,260.61 L92.58,257.40 L92.68,262.75 L92.78,264.02 L92.88,262.09 L92.98,263.54 L93.08,265.48 L93.18,264.28 L93.28,263.99 L93.38,266.97 L93.48,267.46 L93.58,267.71 L93.68,276.20 L93.78,267.04 L93.88,269.21 L93.98,266.25 L94.07,270.69 L94.17,268.36 L94.27,272.25 L94.37,271.17 L94.47,269.43 L94.57,274.98 L94.67,274.62 L94.77,275.46 L94.87,276.11 L94.97,273.13 L95.07,272.00 L95.17,273.02 L95.27,270.34 L95.37,274.01 L95.47,278.65 L95.57,274.86 L95.67,273.04 L95.77,277.17 L95.87,274.80 L95.97,276.67 L96.06,276.05 L96.16,275.87 L96.26,274.28 L96.36,272.76 L96.46,271.88 L96.56,277.45 L96.66,275.86 L96.76,270.70 L96.86,273.72 L96.96,274.01 L97.06,275.91 L97.16,271.29 L97.26,272.36 L97.36,266.28 L97.46,263.50 L97.56,267.40 L97.66,265.18 L97.76,264.64 L97.86,264.93 L97.96,266.76 L98.05,268.08 L98.15,260.02 L98.25,261.22 L98.35,259.41 L98.45,257.49 L98.55,254.75 L98.65,256.09 L98.75,266.27 L98.85,258.47 L98.95,257.91 L99.05,254.78 L99.15,261.81 L99.25,251.96 L99.35,246.84 L99.45,258.89 L99.55,253.10 L99.65,253.92 L99.75,251.04 L99.85,246.27 L99.95,246.74 L100.04,248.62 L100.14,249.26 L100.24,251.22 L100.34,243.59 L100.44,245.85 L100.54,238.46 L100.64,248.03 L100.74,246.25 L100.84,247.61 L100.94,252.71 L101.04,249.09 L101.14,244.38 L101.24,252.11 L101.34,248.42 L101.44,250.96 L101.54,248.28 L101.64,251.61 L101.74,242.19 L101.84,246.62 L101.94,252.25 L102.03,246.18 L102.13,247.68 L102.23,245.26 L102.33,250.34 L102.43,249.05 L102.53,247.16 L102.63,251.91 L102.73,257.12 L102.83,250.77 L102.93,247.88 L103.03,254.79 L103.13,257.32 L103.23,254.42 L103.33,264.81 L103.43,258.09 L103.53,259.93 L103.63,262.56 L103.73,263.82 L103.83,255.03 L103.93,258.43 L104.02,259.68 L104.12,261.32 L104.22,269.70 L104.32,260.62 L104.42,263.65 L104.52,267.02 L104.62,267.56 L104.72,265.62 L104.82,268.55 L104.92,265.73 L105.02,259.85 L105.12,271.16 L105.22,265.62 L105.32,263.38 L105.42,266.63 L105.52,267.89 L105.62,268.13 L105.72,267.42 L105.82,271.50 L105.92,269.66 L106.01,269.92 L106.11,272.72 L106.21,275.91 L106.31,271.42 L106.41,270.65 L106.51,274.00 L106.61,270.89 L106.71,277.33 L106.81,274.18 L106.91,272.71 L107.01,275.13 L107.11,275.38 L107.21,277.52 L107.31,273.87 L107.41,274.80 L107.51,277.45 L107.61,276.56 L107.71,269.11 L107.81,276.92 L107.91,270.96 L108.00,277.17 L108.10,278.17 L108.20,266.21 L108.30,276.93 L108.40,274.96 L108.50,270.62 L108.60,276.84 L108.70,269.72 L108.80,272.69 L108.90,270.92 L109.00,270.54 L109.10,273.32 L109.20,268.32 L109.30,266.96 L109.40,262.08 L109.50,264.47 L109.60,266.44 L109.70,267.58 L109.80,267.18 L109.90,261.94 L109.99,263.14 L110.09,271.15 L110.19,266.27 L110.29,260.98 L110.39,259.39 L110.49,261.22 L110.59,256.26 L110.69,264.61 L110.79,261.56 L110.89,261.48 L110.99,257.96 L111.09,251.57 L111.19,250.53 L111.29,251.36 L111.39,254.67 L111.49,251.40 L111.59,254.43 L111.69,250.87 L111.79,252.02 L111.89,253.76 L111.98,244.23 L112.08,250.87 L112.18,250.12 L112.28,252.27 L112.38,250.56 L112.48,249.61 L112.58,250.92 L112.68,250.70 L112.78,247.93 L112.88,246.55 L112.98,249.63 L113.08,246.05 L113.18,240.08 L113.28,243.47 L113.38,254.86 L113.48,244.97 L113.58,245.32 L113.68,244.13 L113.78,242.58 L113.88,244.22 L113.97,241.13 L114.07,246.09 L114.17,246.89 L114.27,246.95 L114.37,247.37 L114.47,246.59 L114.57,245.96 L114.67,249.02 L114.77,245.81 L114.87,244.46 L114.97,246.92 L115.07,247.52 L115.17,248.91 L115.27,255.13 L115.37,253.62 L115.47,243.31 L115.57,252.06 L115.67,251.12 L115.77,251.06 L115.87,249.19 L115.96,251.29 L116.06,247.63 L116.16,250.71 L116.26,258.01 L116.36,256.17 L116.46,254.28 L116.56,259.01 L116.66,258.31 L116.76,259.29 L116.86,260.29 L116.96,262.37 L117.06,262.47 L117.16,256.06 L117.26,263.84 L117.36,262.05 L117.46,262.90 L117.56,267.61 L117.66,267.13 L117.76,264.68 L117.86,269.47 L117.95,267.63 L118.05,270.95 L118.15,271.75 L118.25,272.11 L118.35,271.69 L118.45,276.07 L118.55,269.02 L118.65,273.18 L118.75,273.20 L118.85,272.25 L118.95,273.52 L119.05,275.25 L119.15,273.23 L119.25,279.16 L119.35,280.56 L119.45,281.06 L119.55,279.66 L119.65,280.07 L119.75,281.96 L119.85,276.51 L119.94,277.19 L120.04,287.10 L120.14,273.60 L120.24,282.03 L120.34,276.68 L120.44,281.76 L120.54,280.22 L120.64,270.33 L120.74,276.45 L120.84,282.42 L120.94,280.33 L121.04,273.20 L121.14,274.54 L121.24,277.07 L121.34,268.01 L121.44,270.78 L121.54,268.45 L121.64,273.40 L121.74,271.26 L121.84,278.27 L121.93,273.91 L122.03,276.36 L122.13,269.22 L122.23,269.00 L122.33,265.93 L122.43,272.14 L122.53,268.17 L122.63,267.34 L122.73,264.28 L122.83,263.03 L122.93,267.43 L123.03,266.74 L123.13,263.75 L123.23,252.80 L123.33,260.47 L123.43,258.13 L123.53,259.18 L123.63,261.84 L123.73,255.77 L123.83,255.80 L123.92,253.38 L124.02,256.38 L124.12,254.85 L124.22,255.62 L124.32,257.01 L124.42,257.93 L124.52,253.71 L124.62,254.22 L124.72,256.04 L124.82,255.47 L124.92,257.88 L125.02,250.94 L125.12,262.14 L125.22,251.63 L125.32,256.15 L125.42,256.56 L125.52,257.79 L125.62,255.56 L125.72,257.69 L125.82,261.10 L125.91,266.21 L126.01,259.29 L126.11,257.94 L126.21,262.43 L126.31,263.95 L126.41,261.38 L126.51,262.68 L126.61,258.94 L126.71,261.01 L126.81,266.12 L126.91,261.88 L127.01,265.81 L127.11,268.60 L127.21,267.14 L127.31,270.15 L127.41,270.81 L127.51,271.82 L127.61,265.97 L127.71,265.38 L127.81,272.23 L127.90,265.41 L128.00,272.18 L128.10,277.11 L128.20,273.19 L128.30,278.34 L128.40,275.44 L128.50,269.67 L128.60,277.11 L128.70,274.62 L128.80,273.05 L128.90,277.00 L129.00,271.90 L129.10,275.06 L129.20,278.76 L129.30,288.95 L129.40,281.91 L129.50,279.48 L129.60,278.27 L129.70,284.41 L129.80,285.88 L129.89,276.78 L129.99,279.94 L130.09,282.94 L130.19,278.99 L130.29,285.10 L130.39,293.50 L130.49,285.36 L130.59,288.38 L130.69,284.29 L130.79,286.15 L130.89,286.22 L130.99,284.74 L131.09,287.58 L131.19,286.96 L131.29,287.00 L131.39,284.04 L131.49,291.21 L131.59,287.27 L131.69,286.99 L131.79,288.58 L131.88,283.76 L131.98,283.27 L132.08,285.30 L132.18,290.00 L132.28,285.79 L132.38,274.25 L132.48,283.66 L132.58,279.67 L132.68,283.85 L132.78,281.32 L132.88,282.72 L132.98,273.59 L133.08,281.47 L133.18,279.27 L133.28,277.56 L133.38,275.43 L133.48,276.56 L133.58,279.42 L133.68,275.16 L133.78,276.55 L133.87,275.18 L133.97,269.66 L134.07,275.64 L134.17,276.43 L134.27,272.08 L134.37,275.54 L134.47,270.79 L134.57,273.65 L134.67,271.38 L134.77,274.02 L134.87,270.32 L134.97,272.79 L135.07,267.67 L135.17,266.17 L135.27,271.44 L135.37,265.91 L135.47,264.51 L135.57,269.89 L135.67,266.09 L135.77,268.15 L135.86,272.15 L135.96,260.57 L136.06,263.55 L136.16,271.24 L136.26,263.65 L136.36,261.37 L136.46,261.78 L136.56,261.67 L136.66,261.38 L136.76,257.92 L136.86,260.39 L136.96,254.68 L137.06,255.70 L137.16,252.51 L137.26,257.66 L137.36,257.61 L137.46,253.56 L137.56,256.28 L137.66,257.30 L137.76,254.15 L137.85,254.56 L137.95,259.03 L138.05,258.34 L138.15,251.03 L138.25,254.49 L138.35,252.89 L138.45,258.06 L138.55,252.71 L138.65,261.35 L138.75,253.09 L138.85,257.94 L138.95,250.57 L139.05,257.05 L139.15,251.81 L139.25,258.78 L139.35,253.02 L139.45,252.87 L139.55,253.54 L139.65,252.74 L139.75,254.84 L139.84,266.40 L139.94,258.29 L140.04,257.69 L140.14,258.32 L140.24,259.14 L140.34,260.63 L140.44,257.54 L140.54,258.38 L140.64,263.38 L140.74,265.50 L140.84,271.67 L140.94,267.18 L141.04,264.84 L141.14,265.15 L141.24,262.91 L141.34,267.90 L141.44,268.72 L141.54,267.74 L141.64,269.30 L141.74,276.47 L141.83,269.63 L141.93,271.23 L142.03,269.40 L142.13,274.27 L142.23,273.69 L142.33,276.10 L142.43,275.04 L142.53,277.08 L142.63,268.45 L142.73,284.44 L142.83,274.54 L142.93,280.33 L143.03,278.30 L143.13,280.73 L143.23,281.42 L143.33,287.50 L143.43,281.54 L143.53,276.43 L143.63,279.41 L143.73,290.01 L143.82,285.99 L143.92,280.28 L144.02,288.60 L144.12,285.13 L144.22,278.36 L144.32,285.56 L144.42,287.34 L144.52,287.45 L144.62,286.27 L144.72,292.66 L144.82,290.95 L144.92,290.61 L145.02,289.91 L145.12,291.91 L145.22,285.65 L145.32,294.39 L145.42,290.02 L145.52,288.54 L145.62,285.97 L145.72,291.20 L145.81,289.46 L145.91,292.56 L146.01,290.82 L146.11,292.44 L146.21,288.20 L146.31,287.74 L146.41,292.77 L146.51,288.27 L146.61,289.79 L146.71,291.90 L146.81,290.24 L146.91,291.05 L147.01,283.45 L147.11,292.00 L147.21,285.41 L147.31,289.24 L147.41,290.20 L147.51,281.69 L147.61,287.10 L147.71,289.28 L147.80,283.59 L147.90,282.37 L148.00,289.80 L148.10,285.77 L148.20,284.84 L148.30,287.09 L148.40,280.95 L148.50,285.84 L148.60,284.45 L148.70,281.74 L148.80,283.01 L148.90,279.77 L149.00,282.43 L149.10,281.62 L149.20,279.65 L149.30,282.04 L149.40,277.34 L149.50,279.08 L149.60,277.79 L149.70,279.70 L149.79,276.74 L149.89,270.82 L149.99,277.84 L150.09,279.04 L150.19,280.04 L150.29,275.43 L150.39,277.14 L150.49,279.73 L150.59,275.69 L150.69,279.64 L150.79,278.54 L150.89,279.67 L150.99,275.41 L151.09,277.46 L151.19,274.03 L151.29,281.25 L151.39,277.10 L151.49,280.04 L151.59,273.03 L151.69,276.12 L151.78,276.57 L151.88,272.91 L151.98,266.79 L152.08,279.74 L152.18,276.40 L152.28,270.10 L152.38,269.94 L152.48,274.31 L152.58,271.32 L152.68,269.16 L152.78,270.47 L152.88,273.87 L152.98,274.98 L153.08,273.18 L153.18,277.54 L153.28,274.30 L153.38,268.73 L153.48,273.17 L153.58,268.07 L153.68,269.19 L153.77,270.28 L153.87,270.56 L153.97,271.88 L154.07,270.03 L154.17,266.27 L154.27,261.37 L154.37,268.80 L154.47,268.42 L154.57,270.86 L154.67,270.84 L154.77,272.03 L154.87,268.10 L154.97,266.55 L155.07,270.38 L155.17,271.33 L155.27,269.31 L155.37,268.80 L155.47,268.38 L155.57,271.75 L155.67,272.29 L155.76,271.15 L155.86,268.50 L155.96,274.56 L156.06,268.07 L156.16,270.34 L156.26,271.46 L156.36,273.73 L156.46,273.87 L156.56,264.96 L156.66,269.58 L156.76,266.54 L156.86,273.66 L156.96,271.78 L157.06,275.41 L157.16,268.53 L157.26,269.37 L157.36,272.06 L157.46,267.45 L157.56,267.00 L157.66,261.81 L157.75,266.12 L157.85,269.56 L157.95,268.20 L158.05,269.13 L158.15,266.16 L158.25,267.22 L158.35,271.33 L158.45,266.97 L158.55,266.99 L158.65,267.12 L158.75,272.78 L158.85,266.26 L158.95,267.39 L159.05,273.86 L159.15,269.59 L159.25,263.29 L159.35,275.34 L159.45,263.37 L159.55,270.22 L159.65,264.83 L159.74,261.72 L159.84,263.61 L159.94,265.37 L160.04,270.22 L160.14,266.35 L160.24,272.92 L160.34,262.44 L160.44,273.46 L160.54,266.22 L160.64,267.64 L160.74,267.75 L160.84,267.87 L160.94,268.81 L161.04,268.04 L161.14,267.41 L161.24,259.63 L161.34,264.63 L161.44,271.48 L161.54,266.92 L161.64,267.76 L161.73,270.31 L161.83,268.86 L161.93,269.87 L162.03,277.23 L162.13,271.68 L162.23,265.20 L162.33,272.33 L162.43,265.92 L162.53,269.09 L162.63,266.71 L162.73,265.47 L162.83,267.03 L162.93,268.28 L163.03,268.89 L163.13,266.00 L163.23,269.70 L163.33,268.05 L163.43,270.59 L163.53,268.56 L163.63,267.50 L163.72,268.80 L163.82,269.23 L163.92,266.59 L164.02,269.90 L164.12,277.01 L164.22,269.57 L164.32,272.27 L164.42,269.74 L164.52,267.70 L164.62,270.28 L164.72,263.57 L164.82,272.15 L164.92,269.00 L165.02,266.30 L165.12,262.15 L165.22,262.96 L165.32,273.31 L165.42,272.64 L165.52,268.06 L165.62,269.06 L165.71,270.04 L165.81,262.09 L165.91,266.32 L166.01,271.19 L166.11,267.10 L166.21,265.32 L166.31,268.25 L166.41,265.43 L166.51,270.23 L166.61,269.01 L166.71,265.31 L166.81,271.49 L166.91,272.67 L167.01,264.46 L167.11,267.52 L167.21,276.69 L167.31,266.46 L167.41,269.33 L167.51,271.47 L167.61,264.50 L167.70,267.31 L167.80,259.76 L167.90,268.41 L168.00,270.96 L168.10,266.29 L168.20,267.62 L168.30,265.41 L168.40,272.77 L168.50,268.31 L168.60,266.22 L168.70,272.16 L168.80,276.58 L168.90,266.33 L169.00,273.71 L169.10,263.80 L169.20,269.65 L169.30,270.95 L169.40,269.38 L169.50,270.42 L169.60,258.87 L169.69,265.82 L169.79,267.65 L169.89,267.22 L169.99,260.85 L170.09,266.83 L170.19,266.82 L170.29,259.48 L170.39,259.79 L170.49,272.36 L170.59,269.81 L170.69,260.88 L170.79,265.53 L170.89,263.51 L170.99,267.11 L171.09,263.46 L171.19,265.57 L171.29,266.48 L171.39,265.44 L171.49,268.85 L171.59,268.11 L171.68,264.00 L171.78,270.43 L171.88,265.38 L171.98,266.49 L172.08,266.12 L172.18,270.03 L172.28,264.93 L172.38,266.61 L172.48,268.71 L172.58,268.50 L172.68,267.61 L172.78,266.61 L172.88,270.29 L172.98,267.46 L173.08,266.69 L173.18,267.13 L173.28,267.28 L173.38,269.24 L173.48,269.29 L173.58,266.00 L173.67,268.21 L173.77,261.01 L173.87,265.76 L173.97,266.25 L174.07,260.95 L174.17,274.48 L174.27,271.88 L174.37,265.98 L174.47,267.99 L174.57,268.66 L174.67,269.16 L174.77,268.56 L174.87,264.22 L174.97,260.70 L175.07,265.08 L175.17,270.84 L175.27,269.86 L175.37,266.10 L175.47,269.73 L175.57,271.75 L175.66,264.39 L175.76,271.05 L175.86,267.51 L175.96,269.10 L176.06,266.79 L176.16,272.79 L176.26,265.63 L176.36,269.78 L176.46,261.55 L176.56,267.09 L176.66,267.45 L176.76,271.57 L176.86,268.39 L176.96,266.73 L177.06,266.61 L177.16,265.92 L177.26,264.70 L177.36,268.68 L177.46,269.04 L177.56,266.23 L177.65,264.50 L177.75,263.36 L177.85,265.80 L177.95,267.86 L178.05,271.17 L178.15,264.62 L178.25,267.65 L178.35,263.85 L178.45,263.90 L178.55,268.27 L178.65,268.39 L178.75,263.22 L178.85,264.09 L178.95,269.09 L179.05,267.95 L179.15,272.06 L179.25,265.46 L179.35,265.39 L179.45,262.17 L179.55,274.33 L179.64,265.68 L179.74,270.91 L179.84,269.06 L179.94,273.00 L180.04,263.12 L180.14,266.36 L180.24,270.63 L180.34,267.25 L180.44,259.54 L180.54,268.83 L180.64,261.04 L180.74,269.94 L180.84,273.56 L180.94,258.90 L181.04,267.42 L181.14,266.57 L181.24,265.87 L181.34,268.75 L181.44,274.07 L181.54,260.96 L181.63,267.26 L181.73,274.65 L181.83,268.81 L181.93,270.17 L182.03,268.21 L182.13,262.24 L182.23,267.07 L182.33,261.37 L182.43,266.07 L182.53,271.11 L182.63,263.96 L182.73,269.36 L182.83,267.50 L182.93,267.19 L183.03,269.79 L183.13,276.88 L183.23,273.77 L183.33,271.54 L183.43,271.44 L183.53,267.97 L183.62,266.99 L183.72,268.50 L183.82,262.23 L183.92,271.87 L184.02,272.75 L184.12,268.14 L184.22,268.46 L184.32,268.89 L184.42,268.28 L184.52,269.07 L184.62,262.55 L184.72,266.65 L184.82,266.77 L184.92,264.84 L185.02,269.59 L185.12,270.06 L185.22,271.68 L185.32,268.22 L185.42,263.74 L185.52,273.56 L185.61,268.51 L185.71,268.43 L185.81,271.50 L185.91,263.45 L186.01,263.60 L186.11,269.72 L186.21,265.95 L186.31,263.66 L186.41,271.15 L186.51,266.84 L186.61,264.39 L186.71,269.83 L186.81,263.84 L186.91,264.19 L187.01,264.31 L187.11,262.90 L187.21,265.88 L187.31,268.03 L187.41,265.93 L187.51,262.24 L187.60,264.63 L187.70,267.68 L187.80,272.22 L187.90,267.55 L188.00,264.93 L188.10,268.08 L188.20,263.72 L188.30,265.51 L188.40,268.12 L188.50,272.41 L188.60,269.24 L188.70,271.59 L188.80,270.25 L188.90,262.60 L189.00,264.83 L189.10,274.38 L189.20,271.54 L189.30,269.93 L189.40,266.10 L189.50,269.47 L189.59,261.95 L189.69,271.30 L189.79,275.38 L189.89,268.62 L189.99,261.33 L190.09,268.95 L190.19,269.04 L190.29,268.70 L190.39,270.99 L190.49,267.64 L190.59,268.06 L190.69,269.62 L190.79,273.07 L190.89,269.45 L190.99,271.16 L191.09,270.05 L191.19,265.69 L191.29,268.25 L191.39,268.56 L191.49,270.99 L191.58,268.59 L191.68,268.10 L191.78,272.17 L191.88,269.11 L191.98,277.97 L192.08,272.09 L192.18,268.95 L192.28,271.82 L192.38,271.11 L192.48,265.79 L192.58,269.20 L192.68,268.07 L192.78,267.07 L192.88,269.69 L192.98,271.37 L193.08,271.16 L193.18,269.40 L193.28,267.48 L193.38,266.23 L193.48,268.41 L193.57,268.37 L193.67,271.68 L193.77,260.58 L193.87,267.80 L193.97,265.54 L194.07,267.00 L194.17,271.98 L194.27,265.12 L194.37,273.51 L194.47,265.87 L194.57,268.81 L194.67,263.69 L194.77,268.72 L194.87,272.30 L194.97,270.69 L195.07,271.57 L195.17,270.66 L195.27,268.31 L195.37,269.28 L195.47,267.76 L195.56,267.36 L195.66,271.25 L195.76,272.68 L195.86,270.98 L195.96,267.81 L196.06,270.79 L196.16,270.02 L196.26,267.16 L196.36,269.09 L196.46,272.03 L196.56,270.53 L196.66,269.19 L196.76,270.20 L196.86,271.23 L196.96,268.70 L197.06,273.84 L197.16,271.57 L197.26,271.57 L197.36,271.83 L197.46,272.47 L197.55,268.26 L197.65,273.14 L197.75,268.99 L197.85,269.52 L197.95,271.80 L198.05,266.11 L198.15,270.34 L198.25,273.51 L198.35,268.77 L198.45,266.88 L198.55,275.33 L198.65,270.14 L198.75,268.79 L198.85,269.33 L198.95,273.61 L199.05,271.32 L199.15,270.67 L199.25,269.99 L199.35,270.91 L199.45,267.00 L199.54,267.20 L199.64,271.49 L199.74,270.99 L199.84,265.90 L199.94,261.59 L200.04,272.42 L200.14,268.55 L200.24,272.83 L200.34,273.55 L200.44,264.17 L200.54,265.14 L200.64,272.50 L200.74,269.91 L200.84,271.79 L200.94,269.86 L201.04,269.34 L201.14,268.40 L201.24,268.01 L201.34,266.82 L201.44,273.00 L201.53,272.04 L201.63,273.53 L201.73,267.63 L201.83,270.78 L201.93,273.28 L202.03,268.68 L202.13,268.74 L202.23,264.36 L202.33,270.89 L202.43,271.87 L202.53,269.22 L202.63,273.73 L202.73,267.10 L202.83,270.55 L202.93,271.82 L203.03,269.64 L203.13,272.81 L203.23,272.18 L203.33,268.73 L203.43,269.70 L203.52,261.47 L203.62,270.37 L203.72,277.17 L203.82,269.04 L203.92,269.73 L204.02,278.01 L204.12,266.44 L204.22,269.18 L204.32,267.10 L204.42,268.65 L204.52,268.55 L204.62,276.93 L204.72,272.84 L204.82,270.41 L204.92,271.93 L205.02,269.94 L205.12,269.82 L205.22,271.23 L205.32,273.22 L205.42,269.15 L205.51,266.57 L205.61,272.86 L205.71,274.83 L205.81,276.69 L205.91,269.88 L206.01,270.54 L206.11,274.80 L206.21,267.86 L206.31,269.29 L206.41,267.82 L206.51,267.54 L206.61,261.59 L206.71,265.52 L206.81,271.89 L206.91,268.47 L207.01,271.49 L207.11,270.41 L207.21,271.07 L207.31,267.30 L207.41,269.28 L207.50,274.16 L207.60,267.43 L207.70,272.07 L207.80,266.25 L207.90,277.57 L208.00,268.73 L208.10,271.16 L208.20,266.99 L208.30,272.66 L208.40,270.22" fill="none" stroke="#c0621c" stroke-width="0.7" stroke-linejoin="round" opacity="1"/>
<path d="M29.40,312.19 L29.50,309.98 L29.60,313.13 L29.70,310.26 L29.80,311.02 L29.90,305.69 L30.00,306.73 L30.10,313.04 L30.20,310.83 L30.30,310.18 L30.39,313.69 L30.49,308.92 L30.59,309.36 L30.69,311.73 L30.79,312.90 L30.89,312.22 L30.99,307.55 L31.09,312.77 L31.19,311.40 L31.29,309.21 L31.39,311.53 L31.49,311.23 L31.59,310.11 L31.69,314.31 L31.79,311.25 L31.89,313.09 L31.99,308.53 L32.09,311.07 L32.19,311.98 L32.29,307.37 L32.38,305.04 L32.48,308.42 L32.58,310.71 L32.68,310.17 L32.78,305.86 L32.88,310.91 L32.98,310.38 L33.08,311.91 L33.18,309.05 L33.28,308.49 L33.38,310.32 L33.48,311.45 L33.58,308.23 L33.68,310.85 L33.78,310.18 L33.88,311.59 L33.98,307.81 L34.08,311.99 L34.18,310.54 L34.28,311.53 L34.37,312.06 L34.47,311.27 L34.57,312.25 L34.67,307.61 L34.77,308.63 L34.87,312.74 L34.97,310.47 L35.07,313.17 L35.17,312.80 L35.27,311.74 L35.37,309.47 L35.47,309.62 L35.57,313.52 L35.67,313.74 L35.77,312.07 L35.87,309.71 L35.97,310.71 L36.07,313.04 L36.17,311.99 L36.27,318.98 L36.36,310.26 L36.46,315.02 L36.56,311.27 L36.66,309.98 L36.76,310.11 L36.86,313.78 L36.96,312.11 L37.06,311.25 L37.16,311.49 L37.26,310.48 L37.36,312.09 L37.46,310.41 L37.56,309.67 L37.66,312.03 L37.76,315.30 L37.86,309.62 L37.96,311.78 L38.06,312.61 L38.16,311.95 L38.26,310.68 L38.35,314.41 L38.45,312.13 L38.55,313.91 L38.65,311.00 L38.75,311.14 L38.85,310.20 L38.95,316.10 L39.05,312.85 L39.15,314.34 L39.25,312.28 L39.35,311.48 L39.45,311.83 L39.55,309.58 L39.65,311.96 L39.75,310.55 L39.85,314.59 L39.95,312.22 L40.05,311.28 L40.15,311.93 L40.25,310.98 L40.34,311.28 L40.44,313.85 L40.54,309.26 L40.64,311.10 L40.74,312.38 L40.84,310.73 L40.94,314.90 L41.04,309.94 L41.14,311.43 L41.24,311.13 L41.34,303.70 L41.44,311.20 L41.54,307.46 L41.64,307.90 L41.74,310.95 L41.84,312.11 L41.94,309.99 L42.04,312.41 L42.14,313.48 L42.24,309.91 L42.33,310.56 L42.43,312.85 L42.53,308.01 L42.63,310.78 L42.73,311.77 L42.83,308.53 L42.93,308.79 L43.03,307.58 L43.13,307.75 L43.23,309.44 L43.33,311.33 L43.43,314.54 L43.53,309.77 L43.63,312.35 L43.73,314.04 L43.83,310.77 L43.93,311.46 L44.03,308.26 L44.13,309.81 L44.23,311.25 L44.32,312.40 L44.42,306.66 L44.52,308.52 L44.62,314.97 L44.72,312.71 L44.82,312.59 L44.92,307.81 L45.02,309.70 L45.12,310.54 L45.22,307.11 L45.32,309.67 L45.42,308.07 L45.52,306.53 L45.62,308.26 L45.72,314.91 L45.82,314.72 L45.92,306.66 L46.02,308.40 L46.12,305.22 L46.22,307.62 L46.31,310.54 L46.41,310.41 L46.51,309.69 L46.61,307.54 L46.71,307.74 L46.81,307.71 L46.91,307.35 L47.01,311.16 L47.11,310.40 L47.21,311.15 L47.31,307.49 L47.41,305.47 L47.51,308.30 L47.61,309.90 L47.71,306.97 L47.81,311.42 L47.91,307.84 L48.01,307.18 L48.11,309.71 L48.21,313.54 L48.30,308.87 L48.40,309.82 L48.50,309.56 L48.60,313.44 L48.70,313.25 L48.80,309.04 L48.90,309.36 L49.00,307.69 L49.10,305.78 L49.20,311.91 L49.30,310.59 L49.40,310.31 L49.50,300.87 L49.60,309.34 L49.70,308.50 L49.80,305.21 L49.90,309.11 L50.00,313.59 L50.10,309.05 L50.20,308.99 L50.29,300.52 L50.39,306.77 L50.49,309.88 L50.59,304.22 L50.69,309.66 L50.79,299.92 L50.89,308.59 L50.99,308.06 L51.09,305.04 L51.19,307.40 L51.29,310.95 L51.39,309.12 L51.49,305.56 L51.59,309.31 L51.69,304.44 L51.79,307.15 L51.89,306.37 L51.99,306.15 L52.09,311.03 L52.19,309.39 L52.28,308.50 L52.38,309.65 L52.48,309.68 L52.58,310.27 L52.68,308.77 L52.78,312.04 L52.88,308.66 L52.98,305.88 L53.08,307.38 L53.18,310.75 L53.28,308.40 L53.38,310.24 L53.48,310.99 L53.58,308.46 L53.68,309.43 L53.78,309.59 L53.88,308.15 L53.98,303.46 L54.08,312.00 L54.18,305.97 L54.27,305.26 L54.37,312.25 L54.47,305.27 L54.57,304.46 L54.67,307.83 L54.77,305.62 L54.87,306.80 L54.97,308.22 L55.07,308.28 L55.17,307.11 L55.27,307.04 L55.37,301.05 L55.47,308.51 L55.57,307.89 L55.67,307.86 L55.77,307.20 L55.87,309.08 L55.97,312.05 L56.07,309.81 L56.17,311.99 L56.26,307.33 L56.36,303.59 L56.46,306.00 L56.56,309.24 L56.66,306.21 L56.76,307.91 L56.86,306.83 L56.96,307.74 L57.06,306.87 L57.16,309.60 L57.26,306.69 L57.36,308.48 L57.46,310.58 L57.56,309.87 L57.66,307.71 L57.76,310.24 L57.86,311.88 L57.96,309.74 L58.06,307.72 L58.16,312.90 L58.25,310.58 L58.35,304.88 L58.45,308.27 L58.55,305.93 L58.65,308.49 L58.75,304.22 L58.85,307.12 L58.95,305.56 L59.05,305.37 L59.15,306.23 L59.25,310.35 L59.35,313.84 L59.45,307.03 L59.55,307.49 L59.65,307.27 L59.75,302.39 L59.85,306.11 L59.95,308.34 L60.05,307.00 L60.15,305.72 L60.24,308.66 L60.34,307.69 L60.44,309.66 L60.54,307.05 L60.64,307.03 L60.74,307.75 L60.84,308.85 L60.94,305.77 L61.04,308.88 L61.14,307.05 L61.24,306.49 L61.34,309.93 L61.44,305.36 L61.54,301.90 L61.64,307.45 L61.74,307.02 L61.84,308.46 L61.94,307.51 L62.04,311.43 L62.14,308.91 L62.23,305.44 L62.33,309.50 L62.43,306.88 L62.53,301.86 L62.63,307.64 L62.73,307.94 L62.83,306.76 L62.93,306.19 L63.03,304.56 L63.13,304.00 L63.23,307.38 L63.33,304.32 L63.43,310.68 L63.53,303.76 L63.63,300.27 L63.73,305.28 L63.83,306.18 L63.93,301.42 L64.03,306.89 L64.13,302.71 L64.22,301.31 L64.32,308.61 L64.42,303.51 L64.52,306.25 L64.62,301.87 L64.72,305.40 L64.82,302.30 L64.92,308.87 L65.02,305.69 L65.12,306.86 L65.22,307.51 L65.32,307.14 L65.42,302.01 L65.52,305.91 L65.62,307.39 L65.72,308.04 L65.82,304.16 L65.92,309.20 L66.02,308.12 L66.12,307.18 L66.21,307.52 L66.31,304.66 L66.41,305.20 L66.51,308.68 L66.61,307.98 L66.71,312.23 L66.81,311.81 L66.91,305.17 L67.01,304.75 L67.11,305.08 L67.21,310.52 L67.31,305.58 L67.41,306.45 L67.51,302.02 L67.61,309.27 L67.71,306.13 L67.81,309.18 L67.91,301.04 L68.01,302.67 L68.11,303.07 L68.20,306.50 L68.30,304.40 L68.40,309.66 L68.50,303.24 L68.60,303.47 L68.70,308.54 L68.80,308.49 L68.90,304.70 L69.00,302.56 L69.10,306.43 L69.20,306.04 L69.30,301.86 L69.40,305.94 L69.50,309.63 L69.60,302.77 L69.70,306.27 L69.80,300.67 L69.90,303.42 L70.00,303.92 L70.10,307.71 L70.19,306.83 L70.29,305.26 L70.39,304.46 L70.49,305.31 L70.59,303.55 L70.69,304.86 L70.79,304.66 L70.89,302.96 L70.99,303.92 L71.09,296.82 L71.19,307.64 L71.29,302.96 L71.39,303.16 L71.49,304.06 L71.59,305.01 L71.69,304.29 L71.79,301.93 L71.89,307.81 L71.99,303.16 L72.09,300.90 L72.18,295.04 L72.28,302.31 L72.38,297.96 L72.48,301.25 L72.58,300.96 L72.68,298.63 L72.78,298.44 L72.88,295.17 L72.98,296.49 L73.08,299.37 L73.18,298.14 L73.28,299.95 L73.38,301.52 L73.48,303.29 L73.58,300.08 L73.68,303.89 L73.78,305.48 L73.88,292.56 L73.98,296.76 L74.08,296.88 L74.17,294.58 L74.27,299.02 L74.37,299.68 L74.47,301.42 L74.57,294.86 L74.67,295.92 L74.77,299.45 L74.87,294.80 L74.97,296.69 L75.07,295.00 L75.17,295.85 L75.27,296.12 L75.37,299.46 L75.47,295.98 L75.57,295.32 L75.67,300.24 L75.77,292.64 L75.87,298.50 L75.97,301.24 L76.07,296.60 L76.16,297.46 L76.26,298.90 L76.36,301.09 L76.46,301.17 L76.56,298.51 L76.66,299.82 L76.76,296.28 L76.86,298.13 L76.96,300.44 L77.06,299.58 L77.16,299.32 L77.26,302.85 L77.36,302.67 L77.46,302.98 L77.56,301.27 L77.66,301.50 L77.76,298.91 L77.86,305.43 L77.96,299.05 L78.06,302.73 L78.15,306.84 L78.25,304.83 L78.35,306.76 L78.45,305.51 L78.55,302.78 L78.65,304.31 L78.75,312.22 L78.85,312.88 L78.95,313.20 L79.05,303.59 L79.15,302.11 L79.25,305.54 L79.35,305.83 L79.45,306.87 L79.55,310.88 L79.65,307.07 L79.75,309.05 L79.85,303.99 L79.95,308.73 L80.05,309.70 L80.14,306.81 L80.24,310.31 L80.34,313.89 L80.44,309.76 L80.54,306.78 L80.64,310.77 L80.74,304.95 L80.84,311.30 L80.94,308.61 L81.04,306.70 L81.14,315.79 L81.24,309.74 L81.34,309.17 L81.44,311.79 L81.54,310.73 L81.64,307.87 L81.74,312.87 L81.84,310.73 L81.94,309.78 L82.04,308.56 L82.13,306.46 L82.23,307.82 L82.33,311.39 L82.43,305.59 L82.53,307.90 L82.63,309.53 L82.73,307.77 L82.83,300.58 L82.93,311.33 L83.03,306.69 L83.13,306.17 L83.23,300.77 L83.33,308.92 L83.43,305.52 L83.53,306.38 L83.63,307.43 L83.73,306.53 L83.83,304.64 L83.93,306.51 L84.03,307.40 L84.12,305.46 L84.22,304.77 L84.32,300.68 L84.42,301.47 L84.52,308.47 L84.62,306.41 L84.72,307.96 L84.82,306.15 L84.92,304.75 L85.02,308.50 L85.12,307.24 L85.22,310.60 L85.32,306.70 L85.42,305.01 L85.52,310.41 L85.62,306.60 L85.72,309.73 L85.82,310.48 L85.92,309.49 L86.02,309.20 L86.11,314.54 L86.21,309.37 L86.31,311.66 L86.41,313.62 L86.51,313.41 L86.61,306.15 L86.71,312.78 L86.81,313.15 L86.91,308.83 L87.01,308.88 L87.11,306.99 L87.21,307.42 L87.31,306.78 L87.41,305.26 L87.51,305.99 L87.61,306.24 L87.71,299.58 L87.81,306.47 L87.91,304.99 L88.01,303.63 L88.10,302.91 L88.20,302.83 L88.30,299.88 L88.40,299.23 L88.50,302.36 L88.60,300.76 L88.70,302.41 L88.80,299.08 L88.90,303.12 L89.00,301.15 L89.10,298.57 L89.20,301.13 L89.30,300.04 L89.40,303.32 L89.50,296.03 L89.60,306.88 L89.70,301.37 L89.80,300.13 L89.90,301.86 L90.00,298.79 L90.09,306.42 L90.19,302.28 L90.29,299.50 L90.39,300.70 L90.49,305.45 L90.59,299.99 L90.69,304.71 L90.79,300.80 L90.89,296.87 L90.99,297.95 L91.09,301.16 L91.19,299.52 L91.29,304.64 L91.39,305.10 L91.49,304.42 L91.59,309.82 L91.69,300.14 L91.79,301.64 L91.89,304.60 L91.99,308.23 L92.08,303.21 L92.18,310.62 L92.28,310.96 L92.38,305.11 L92.48,307.43 L92.58,308.18 L92.68,303.96 L92.78,304.06 L92.88,311.60 L92.98,309.66 L93.08,310.33 L93.18,306.28 L93.28,309.63 L93.38,309.09 L93.48,307.58 L93.58,310.00 L93.68,310.59 L93.78,311.74 L93.88,312.69 L93.98,316.99 L94.07,310.98 L94.17,315.97 L94.27,318.55 L94.37,317.83 L94.47,315.54 L94.57,316.53 L94.67,317.85 L94.77,313.20 L94.87,312.98 L94.97,314.56 L95.07,314.65 L95.17,316.79 L95.27,314.85 L95.37,315.97 L95.47,318.05 L95.57,316.83 L95.67,319.66 L95.77,319.18 L95.87,318.51 L95.97,317.51 L96.06,321.29 L96.16,318.92 L96.26,314.65 L96.36,315.69 L96.46,321.62 L96.56,317.94 L96.66,317.37 L96.76,320.53 L96.86,316.06 L96.96,312.46 L97.06,312.06 L97.16,312.37 L97.26,308.95 L97.36,313.08 L97.46,305.37 L97.56,308.85 L97.66,308.64 L97.76,307.84 L97.86,305.87 L97.96,305.32 L98.05,310.16 L98.15,306.33 L98.25,302.87 L98.35,305.62 L98.45,302.29 L98.55,305.10 L98.65,299.56 L98.75,297.86 L98.85,299.20 L98.95,300.21 L99.05,303.32 L99.15,301.79 L99.25,304.92 L99.35,298.19 L99.45,299.36 L99.55,299.94 L99.65,291.54 L99.75,298.85 L99.85,295.09 L99.95,296.57 L100.04,294.75 L100.14,301.11 L100.24,293.29 L100.34,295.51 L100.44,294.61 L100.54,293.26 L100.64,298.96 L100.74,297.75 L100.84,301.51 L100.94,301.02 L101.04,295.83 L101.14,297.22 L101.24,298.33 L101.34,298.51 L101.44,300.98 L101.54,299.18 L101.64,298.93 L101.74,297.54 L101.84,300.56 L101.94,299.43 L102.03,294.44 L102.13,303.37 L102.23,301.92 L102.33,302.25 L102.43,306.08 L102.53,301.61 L102.63,301.88 L102.73,305.02 L102.83,297.67 L102.93,304.60 L103.03,303.47 L103.13,309.83 L103.23,311.67 L103.33,305.02 L103.43,310.90 L103.53,305.30 L103.63,315.94 L103.73,315.53 L103.83,307.47 L103.93,310.69 L104.02,311.70 L104.12,309.53 L104.22,311.65 L104.32,314.10 L104.42,313.26 L104.52,317.18 L104.62,315.47 L104.72,315.82 L104.82,315.76 L104.92,322.49 L105.02,317.70 L105.12,311.90 L105.22,315.63 L105.32,316.84 L105.42,317.19 L105.52,316.03 L105.62,314.25 L105.72,315.14 L105.82,324.85 L105.92,316.25 L106.01,317.22 L106.11,317.24 L106.21,321.47 L106.31,318.84 L106.41,316.01 L106.51,320.24 L106.61,318.90 L106.71,316.65 L106.81,318.09 L106.91,314.45 L107.01,317.02 L107.11,317.53 L107.21,314.46 L107.31,319.44 L107.41,314.41 L107.51,315.31 L107.61,311.21 L107.71,317.97 L107.81,312.69 L107.91,318.66 L108.00,317.28 L108.10,316.08 L108.20,312.01 L108.30,313.30 L108.40,317.30 L108.50,314.66 L108.60,314.76 L108.70,313.46 L108.80,317.58 L108.90,313.89 L109.00,311.49 L109.10,316.33 L109.20,314.26 L109.30,311.75 L109.40,311.28 L109.50,314.04 L109.60,313.71 L109.70,314.13 L109.80,313.36 L109.90,313.12 L109.99,309.77 L110.09,313.08 L110.19,305.32 L110.29,310.63 L110.39,306.80 L110.49,309.94 L110.59,310.07 L110.69,305.77 L110.79,306.70 L110.89,307.11 L110.99,304.89 L111.09,312.67 L111.19,311.01 L111.29,304.21 L111.39,313.92 L111.49,308.88 L111.59,306.21 L111.69,308.32 L111.79,313.21 L111.89,307.67 L111.98,302.74 L112.08,306.62 L112.18,304.15 L112.28,302.78 L112.38,308.05 L112.48,308.97 L112.58,304.94 L112.68,304.04 L112.78,305.22 L112.88,307.07 L112.98,301.96 L113.08,308.12 L113.18,300.39 L113.28,306.67 L113.38,307.45 L113.48,302.90 L113.58,306.92 L113.68,304.79 L113.78,310.11 L113.88,304.40 L113.97,300.93 L114.07,296.58 L114.17,305.67 L114.27,306.13 L114.37,303.77 L114.47,309.30 L114.57,302.61 L114.67,308.68 L114.77,303.21 L114.87,304.67 L114.97,310.37 L115.07,312.26 L115.17,305.80 L115.27,309.40 L115.37,299.87 L115.47,308.47 L115.57,310.04 L115.67,309.91 L115.77,310.59 L115.87,313.35 L115.96,310.11 L116.06,309.81 L116.16,313.38 L116.26,307.73 L116.36,310.90 L116.46,311.23 L116.56,314.33 L116.66,315.96 L116.76,313.93 L116.86,311.03 L116.96,314.34 L117.06,318.64 L117.16,311.45 L117.26,320.67 L117.36,317.75 L117.46,317.04 L117.56,317.80 L117.66,316.07 L117.76,321.76 L117.86,318.96 L117.95,320.32 L118.05,326.90 L118.15,319.15 L118.25,318.22 L118.35,324.29 L118.45,321.49 L118.55,323.07 L118.65,320.21 L118.75,320.89 L118.85,319.48 L118.95,321.76 L119.05,323.70 L119.15,322.18 L119.25,322.99 L119.35,320.43 L119.45,329.37 L119.55,320.84 L119.65,322.88 L119.75,321.83 L119.85,315.87 L119.94,321.33 L120.04,317.18 L120.14,324.07 L120.24,320.67 L120.34,319.62 L120.44,314.97 L120.54,319.66 L120.64,321.36 L120.74,322.41 L120.84,316.37 L120.94,322.35 L121.04,318.13 L121.14,321.05 L121.24,320.78 L121.34,317.62 L121.44,318.95 L121.54,314.97 L121.64,319.78 L121.74,323.57 L121.84,318.21 L121.93,315.42 L122.03,310.45 L122.13,319.60 L122.23,319.40 L122.33,316.73 L122.43,313.23 L122.53,314.28 L122.63,311.42 L122.73,309.92 L122.83,315.60 L122.93,313.71 L123.03,311.95 L123.13,313.67 L123.23,318.64 L123.33,310.84 L123.43,309.97 L123.53,312.96 L123.63,315.11 L123.73,310.99 L123.83,308.72 L123.92,306.16 L124.02,312.45 L124.12,310.13 L124.22,307.25 L124.32,308.41 L124.42,311.55 L124.52,308.15 L124.62,307.75 L124.72,313.77 L124.82,309.01 L124.92,310.11 L125.02,305.93 L125.12,306.14 L125.22,303.80 L125.32,301.17 L125.42,307.42 L125.52,307.72 L125.62,309.48 L125.72,310.76 L125.82,306.84 L125.91,313.36 L126.01,306.54 L126.11,306.65 L126.21,309.46 L126.31,307.65 L126.41,310.97 L126.51,312.06 L126.61,311.59 L126.71,309.63 L126.81,310.56 L126.91,317.59 L127.01,309.85 L127.11,314.02 L127.21,306.23 L127.31,314.86 L127.41,314.57 L127.51,314.39 L127.61,316.34 L127.71,315.81 L127.81,317.33 L127.90,322.48 L128.00,314.18 L128.10,317.03 L128.20,318.47 L128.30,319.67 L128.40,316.70 L128.50,321.65 L128.60,318.48 L128.70,322.20 L128.80,321.33 L128.90,322.48 L129.00,325.10 L129.10,323.50 L129.20,321.25 L129.30,318.41 L129.40,324.90 L129.50,318.80 L129.60,324.65 L129.70,322.32 L129.80,320.70 L129.89,319.22 L129.99,321.62 L130.09,324.51 L130.19,324.85 L130.29,322.37 L130.39,321.93 L130.49,321.01 L130.59,322.10 L130.69,322.71 L130.79,319.85 L130.89,320.85 L130.99,323.69 L131.09,323.88 L131.19,324.37 L131.29,324.69 L131.39,320.34 L131.49,327.01 L131.59,320.58 L131.69,316.74 L131.79,324.09 L131.88,320.85 L131.98,317.40 L132.08,319.62 L132.18,324.52 L132.28,313.00 L132.38,319.97 L132.48,319.44 L132.58,320.08 L132.68,317.56 L132.78,324.06 L132.88,324.83 L132.98,319.09 L133.08,314.60 L133.18,318.92 L133.28,321.91 L133.38,318.98 L133.48,323.16 L133.58,317.95 L133.68,322.31 L133.78,317.14 L133.87,318.48 L133.97,322.31 L134.07,313.58 L134.17,318.70 L134.27,316.68 L134.37,318.02 L134.47,314.25 L134.57,313.84 L134.67,318.83 L134.77,319.12 L134.87,321.14 L134.97,318.52 L135.07,317.62 L135.17,319.54 L135.27,314.50 L135.37,317.13 L135.47,313.40 L135.57,318.05 L135.67,317.57 L135.77,313.22 L135.86,315.73 L135.96,308.71 L136.06,311.82 L136.16,316.58 L136.26,314.24 L136.36,313.25 L136.46,314.00 L136.56,315.97 L136.66,316.41 L136.76,314.71 L136.86,317.11 L136.96,316.23 L137.06,311.50 L137.16,314.60 L137.26,315.01 L137.36,315.21 L137.46,315.03 L137.56,312.06 L137.66,312.70 L137.76,313.95 L137.85,309.87 L137.95,312.50 L138.05,308.89 L138.15,312.84 L138.25,313.79 L138.35,315.75 L138.45,312.19 L138.55,311.66 L138.65,315.48 L138.75,312.56 L138.85,313.58 L138.95,318.05 L139.05,306.84 L139.15,315.67 L139.25,315.40 L139.35,310.98 L139.45,310.68 L139.55,313.94 L139.65,313.08 L139.75,313.91 L139.84,315.34 L139.94,313.41 L140.04,315.53 L140.14,319.50 L140.24,316.16 L140.34,314.63 L140.44,316.14 L140.54,319.77 L140.64,319.51 L140.74,315.28 L140.84,313.53 L140.94,315.14 L141.04,319.73 L141.14,322.06 L141.24,316.66 L141.34,317.23 L141.44,319.83 L141.54,317.43 L141.64,320.08 L141.74,318.28 L141.83,320.73 L141.93,319.22 L142.03,324.53 L142.13,323.28 L142.23,320.81 L142.33,322.55 L142.43,321.52 L142.53,323.82 L142.63,322.31 L142.73,321.07 L142.83,320.56 L142.93,324.00 L143.03,321.10 L143.13,326.95 L143.23,326.29 L143.33,326.60 L143.43,326.54 L143.53,317.88 L143.63,327.30 L143.73,328.38 L143.82,324.98 L143.92,330.36 L144.02,324.65 L144.12,326.77 L144.22,325.89 L144.32,326.94 L144.42,325.80 L144.52,327.10 L144.62,322.12 L144.72,329.92 L144.82,328.24 L144.92,330.58 L145.02,324.95 L145.12,326.99 L145.22,326.23 L145.32,328.51 L145.42,326.11 L145.52,324.42 L145.62,327.94 L145.72,326.10 L145.81,332.02 L145.91,327.72 L146.01,323.12 L146.11,330.63 L146.21,327.16 L146.31,326.61 L146.41,326.23 L146.51,322.48 L146.61,328.25 L146.71,325.06 L146.81,326.42 L146.91,324.04 L147.01,328.76 L147.11,321.13 L147.21,325.75 L147.31,324.23 L147.41,327.19 L147.51,320.41 L147.61,324.39 L147.71,324.00 L147.80,322.54 L147.90,321.04 L148.00,320.25 L148.10,317.47 L148.20,318.50 L148.30,321.71 L148.40,322.35 L148.50,322.17 L148.60,322.49 L148.70,317.83 L148.80,322.77 L148.90,319.05 L149.00,320.15 L149.10,319.31 L149.20,320.75 L149.30,322.10 L149.40,325.40 L149.50,319.98 L149.60,319.55 L149.70,318.52 L149.79,321.04 L149.89,322.55 L149.99,317.81 L150.09,319.48 L150.19,321.75 L150.29,320.53 L150.39,316.72 L150.49,326.69 L150.59,318.40 L150.69,320.01 L150.79,319.61 L150.89,320.48 L150.99,318.17 L151.09,321.81 L151.19,315.73 L151.29,321.81 L151.39,317.48 L151.49,322.28 L151.59,319.34 L151.69,312.02 L151.78,320.62 L151.88,323.37 L151.98,320.54 L152.08,314.39 L152.18,320.09 L152.28,318.27 L152.38,322.05 L152.48,319.87 L152.58,319.64 L152.68,317.27 L152.78,319.71 L152.88,318.59 L152.98,321.19 L153.08,322.04 L153.18,324.25 L153.28,317.53 L153.38,317.98 L153.48,317.72 L153.58,319.11 L153.68,317.29 L153.77,315.46 L153.87,320.23 L153.97,318.18 L154.07,317.70 L154.17,315.61 L154.27,316.16 L154.37,311.87 L154.47,314.88 L154.57,314.76 L154.67,316.53 L154.77,312.92 L154.87,316.53 L154.97,319.70 L155.07,315.09 L155.17,316.15 L155.27,316.16 L155.37,317.25 L155.47,308.88 L155.57,318.85 L155.67,317.30 L155.76,314.60 L155.86,316.49 L155.96,314.19 L156.06,316.26 L156.16,318.93 L156.26,318.14 L156.36,316.32 L156.46,319.91 L156.56,321.22 L156.66,314.57 L156.76,317.55 L156.86,319.21 L156.96,315.12 L157.06,314.28 L157.16,312.09 L157.26,319.57 L157.36,314.10 L157.46,315.51 L157.56,315.28 L157.66,320.57 L157.75,309.82 L157.85,321.74 L157.95,312.27 L158.05,316.54 L158.15,318.16 L158.25,312.37 L158.35,315.06 L158.45,317.18 L158.55,323.97 L158.65,315.85 L158.75,311.13 L158.85,317.33 L158.95,319.76 L159.05,316.65 L159.15,319.85 L159.25,315.93 L159.35,316.12 L159.45,318.91 L159.55,317.30 L159.65,319.08 L159.74,316.74 L159.84,321.24 L159.94,316.81 L160.04,314.42 L160.14,313.04 L160.24,316.30 L160.34,314.48 L160.44,320.08 L160.54,318.47 L160.64,320.33 L160.74,314.62 L160.84,316.15 L160.94,313.98 L161.04,315.03 L161.14,316.90 L161.24,316.60 L161.34,316.57 L161.44,317.22 L161.54,319.48 L161.64,317.33 L161.73,320.68 L161.83,316.72 L161.93,318.27 L162.03,318.06 L162.13,314.72 L162.23,315.58 L162.33,312.17 L162.43,316.91 L162.53,316.01 L162.63,314.94 L162.73,316.84 L162.83,315.26 L162.93,319.58 L163.03,315.29 L163.13,319.14 L163.23,315.65 L163.33,321.85 L163.43,315.77 L163.53,314.87 L163.63,316.30 L163.72,310.14 L163.82,312.93 L163.92,314.62 L164.02,315.42 L164.12,314.57 L164.22,312.50 L164.32,313.63 L164.42,319.16 L164.52,320.44 L164.62,323.09 L164.72,315.08 L164.82,317.40 L164.92,315.84 L165.02,312.38 L165.12,316.11 L165.22,314.12 L165.32,311.04 L165.42,315.14 L165.52,314.72 L165.62,315.67 L165.71,319.76 L165.81,314.06 L165.91,313.09 L166.01,312.37 L166.11,320.28 L166.21,314.07 L166.31,314.29 L166.41,313.17 L166.51,316.12 L166.61,315.67 L166.71,318.30 L166.81,317.65 L166.91,318.27 L167.01,313.18 L167.11,317.87 L167.21,315.06 L167.31,316.28 L167.41,320.14 L167.51,314.07 L167.61,313.48 L167.70,311.68 L167.80,317.96 L167.90,315.94 L168.00,316.00 L168.10,316.19 L168.20,314.82 L168.30,314.96 L168.40,317.90 L168.50,312.38 L168.60,320.23 L168.70,317.86 L168.80,314.32 L168.90,315.40 L169.00,317.19 L169.10,319.59 L169.20,312.18 L169.30,316.17 L169.40,315.37 L169.50,317.08 L169.60,315.14 L169.69,316.57 L169.79,315.28 L169.89,314.17 L169.99,314.44 L170.09,318.20 L170.19,316.24 L170.29,314.28 L170.39,315.54 L170.49,315.27 L170.59,309.50 L170.69,310.42 L170.79,317.44 L170.89,314.92 L170.99,316.49 L171.09,313.56 L171.19,315.45 L171.29,316.61 L171.39,319.76 L171.49,316.09 L171.59,315.87 L171.68,317.83 L171.78,314.58 L171.88,319.97 L171.98,314.73 L172.08,318.53 L172.18,311.26 L172.28,316.53 L172.38,313.57 L172.48,312.51 L172.58,307.09 L172.68,314.86 L172.78,318.93 L172.88,313.83 L172.98,315.25 L173.08,314.58 L173.18,314.12 L173.28,316.54 L173.38,312.95 L173.48,321.62 L173.58,312.91 L173.67,312.99 L173.77,311.04 L173.87,309.82 L173.97,321.29 L174.07,315.03 L174.17,308.39 L174.27,314.70 L174.37,314.73 L174.47,315.40 L174.57,315.85 L174.67,316.04 L174.77,313.24 L174.87,311.87 L174.97,312.46 L175.07,318.01 L175.17,318.17 L175.27,312.99 L175.37,313.71 L175.47,315.60 L175.57,316.87 L175.66,312.29 L175.76,316.33 L175.86,319.38 L175.96,308.16 L176.06,315.08 L176.16,314.26 L176.26,313.31 L176.36,316.84 L176.46,314.48 L176.56,317.43 L176.66,315.42 L176.76,314.54 L176.86,316.50 L176.96,315.09 L177.06,314.43 L177.16,310.32 L177.26,315.99 L177.36,310.54 L177.46,315.48 L177.56,315.04 L177.65,313.92 L177.75,312.88 L177.85,315.15 L177.95,313.01 L178.05,314.99 L178.15,314.13 L178.25,316.30 L178.35,313.88 L178.45,314.20 L178.55,313.97 L178.65,317.54 L178.75,311.75 L178.85,314.85 L178.95,314.17 L179.05,321.89 L179.15,312.99 L179.25,311.60 L179.35,312.08 L179.45,313.88 L179.55,309.84 L179.64,314.81 L179.74,316.41 L179.84,315.23 L179.94,312.46 L180.04,310.42 L180.14,313.38 L180.24,311.83 L180.34,309.84 L180.44,312.51 L180.54,314.06 L180.64,312.60 L180.74,311.79 L180.84,312.51 L180.94,313.34 L181.04,313.52 L181.14,312.72 L181.24,316.87 L181.34,317.68 L181.44,314.05 L181.54,314.20 L181.63,317.53 L181.73,309.72 L181.83,311.81 L181.93,314.49 L182.03,316.49 L182.13,309.68 L182.23,310.87 L182.33,314.28 L182.43,319.82 L182.53,319.15 L182.63,310.14 L182.73,314.58 L182.83,320.19 L182.93,314.65 L183.03,309.75 L183.13,318.84 L183.23,307.84 L183.33,313.40 L183.43,313.37 L183.53,309.57 L183.62,310.07 L183.72,312.18 L183.82,313.23 L183.92,314.88 L184.02,305.70 L184.12,311.44 L184.22,309.62 L184.32,311.88 L184.42,320.41 L184.52,310.81 L184.62,313.59 L184.72,309.91 L184.82,311.32 L184.92,314.69 L185.02,314.97 L185.12,319.36 L185.22,313.08 L185.32,316.71 L185.42,319.97 L185.52,313.50 L185.61,316.00 L185.71,319.55 L185.81,309.26 L185.91,314.99 L186.01,314.22 L186.11,320.74 L186.21,309.52 L186.31,315.34 L186.41,317.74 L186.51,314.34 L186.61,316.11 L186.71,316.94 L186.81,314.66 L186.91,322.89 L187.01,319.12 L187.11,311.33 L187.21,316.27 L187.31,316.73 L187.41,313.66 L187.51,317.58 L187.60,315.15 L187.70,316.43 L187.80,315.31 L187.90,317.74 L188.00,314.70 L188.10,314.35 L188.20,314.27 L188.30,317.50 L188.40,317.23 L188.50,314.14 L188.60,315.86 L188.70,314.39 L188.80,312.70 L188.90,318.67 L189.00,321.46 L189.10,315.53 L189.20,314.93 L189.30,311.27 L189.40,313.60 L189.50,316.28 L189.59,316.92 L189.69,313.55 L189.79,316.87 L189.89,305.87 L189.99,312.48 L190.09,312.49 L190.19,313.18 L190.29,310.91 L190.39,310.83 L190.49,315.66 L190.59,311.28 L190.69,310.94 L190.79,320.18 L190.89,316.00 L190.99,309.09 L191.09,313.68 L191.19,315.40 L191.29,308.19 L191.39,313.51 L191.49,313.05 L191.58,313.83 L191.68,314.69 L191.78,313.22 L191.88,313.76 L191.98,316.97 L192.08,309.68 L192.18,317.08 L192.28,314.00 L192.38,307.40 L192.48,311.65 L192.58,312.88 L192.68,315.04 L192.78,316.54 L192.88,312.52 L192.98,314.76 L193.08,318.49 L193.18,322.46 L193.28,316.00 L193.38,322.05 L193.48,314.56 L193.57,313.41 L193.67,316.95 L193.77,312.95 L193.87,313.74 L193.97,317.85 L194.07,317.55 L194.17,314.00 L194.27,317.58 L194.37,316.12 L194.47,315.81 L194.57,316.28 L194.67,318.92 L194.77,316.02 L194.87,315.66 L194.97,307.60 L195.07,315.33 L195.17,313.56 L195.27,321.70 L195.37,312.42 L195.47,314.08 L195.56,315.52 L195.66,311.90 L195.76,313.21 L195.86,316.22 L195.96,315.03 L196.06,313.48 L196.16,316.78 L196.26,311.82 L196.36,314.31 L196.46,314.29 L196.56,314.95 L196.66,317.48 L196.76,312.46 L196.86,316.21 L196.96,313.22 L197.06,316.83 L197.16,314.72 L197.26,314.90 L197.36,311.58 L197.46,310.81 L197.55,317.20 L197.65,317.32 L197.75,313.37 L197.85,316.84 L197.95,319.30 L198.05,309.90 L198.15,314.96 L198.25,319.55 L198.35,316.75 L198.45,312.52 L198.55,310.80 L198.65,312.80 L198.75,317.56 L198.85,317.05 L198.95,313.56 L199.05,317.38 L199.15,311.40 L199.25,314.71 L199.35,320.64 L199.45,310.40 L199.54,315.14 L199.64,315.01 L199.74,314.15 L199.84,320.30 L199.94,313.67 L200.04,314.47 L200.14,312.39 L200.24,316.83 L200.34,313.38 L200.44,316.38 L200.54,311.47 L200.64,311.92 L200.74,317.70 L200.84,309.58 L200.94,317.56 L201.04,313.65 L201.14,315.01 L201.24,312.75 L201.34,313.99 L201.44,313.46 L201.53,317.04 L201.63,309.39 L201.73,316.35 L201.83,315.58 L201.93,313.41 L202.03,314.35 L202.13,311.03 L202.23,306.24 L202.33,316.18 L202.43,315.10 L202.53,311.78 L202.63,315.00 L202.73,317.38 L202.83,311.34 L202.93,311.70 L203.03,316.54 L203.13,316.87 L203.23,312.13 L203.33,317.76 L203.43,313.17 L203.52,314.07 L203.62,310.74 L203.72,315.17 L203.82,315.36 L203.92,313.39 L204.02,314.84 L204.12,311.88 L204.22,313.85 L204.32,313.90 L204.42,316.17 L204.52,314.40 L204.62,310.16 L204.72,306.95 L204.82,312.31 L204.92,315.81 L205.02,313.40 L205.12,316.51 L205.22,313.67 L205.32,313.73 L205.42,314.24 L205.51,314.03 L205.61,313.79 L205.71,314.83 L205.81,312.16 L205.91,312.52 L206.01,313.98 L206.11,311.55 L206.21,318.11 L206.31,312.71 L206.41,306.29 L206.51,311.82 L206.61,315.31 L206.71,314.87 L206.81,312.06 L206.91,312.27 L207.01,315.78 L207.11,313.09 L207.21,312.64 L207.31,314.95 L207.41,315.95 L207.50,312.01 L207.60,313.17 L207.70,318.53 L207.80,313.14 L207.90,312.22 L208.00,313.17 L208.10,313.53 L208.20,317.78 L208.30,318.47 L208.40,313.95" fill="none" stroke="#14926c" stroke-width="0.7" stroke-linejoin="round" opacity="1"/>
<text font-size="19.3" text-anchor="start" fill="#000" font-weight="bold" stroke="#000" stroke-width="0" transform="translate(226.00 207.90) scale(1 1.0)">e</text>
<rect x="258.20" y="207.60" width="176.40" height="145.70" fill="none" stroke="#383838" stroke-width="0.95"/>
<line x1="255.80" y1="353.30" x2="258.20" y2="353.30" stroke="#383838" stroke-width="0.95"/>
<text font-size="9.5" text-anchor="end" fill="#000" font-weight="normal" stroke="#000" stroke-width="0.18" transform="translate(254.20 357.44) scale(1 1.08)">1.0</text>
<line x1="256.90" y1="338.73" x2="258.20" y2="338.73" stroke="#383838" stroke-width="0.95"/>
<line x1="255.80" y1="324.16" x2="258.20" y2="324.16" stroke="#383838" stroke-width="0.95"/>
<text font-size="9.5" text-anchor="end" fill="#000" font-weight="normal" stroke="#000" stroke-width="0.18" transform="translate(254.20 328.30) scale(1 1.08)">1.5</text>
<line x1="256.90" y1="309.59" x2="258.20" y2="309.59" stroke="#383838" stroke-width="0.95"/>
<line x1="255.80" y1="295.02" x2="258.20" y2="295.02" stroke="#383838" stroke-width="0.95"/>
<text font-size="9.5" text-anchor="end" fill="#000" font-weight="normal" stroke="#000" stroke-width="0.18" transform="translate(254.20 299.16) scale(1 1.08)">2.0</text>
<line x1="256.90" y1="280.45" x2="258.20" y2="280.45" stroke="#383838" stroke-width="0.95"/>
<line x1="255.80" y1="265.88" x2="258.20" y2="265.88" stroke="#383838" stroke-width="0.95"/>
<text font-size="9.5" text-anchor="end" fill="#000" font-weight="normal" stroke="#000" stroke-width="0.18" transform="translate(254.20 270.02) scale(1 1.08)">2.5</text>
<line x1="256.90" y1="251.31" x2="258.20" y2="251.31" stroke="#383838" stroke-width="0.95"/>
<line x1="255.80" y1="236.74" x2="258.20" y2="236.74" stroke="#383838" stroke-width="0.95"/>
<text font-size="9.5" text-anchor="end" fill="#000" font-weight="normal" stroke="#000" stroke-width="0.18" transform="translate(254.20 240.88) scale(1 1.08)">3.0</text>
<line x1="256.90" y1="222.17" x2="258.20" y2="222.17" stroke="#383838" stroke-width="0.95"/>
<line x1="255.80" y1="207.60" x2="258.20" y2="207.60" stroke="#383838" stroke-width="0.95"/>
<text font-size="9.5" text-anchor="end" fill="#000" font-weight="normal" stroke="#000" stroke-width="0.18" transform="translate(254.20 211.74) scale(1 1.08)">3.5</text>
<line x1="258.20" y1="353.30" x2="258.20" y2="355.60" stroke="#383838" stroke-width="0.95"/>
<text font-size="9.4" text-anchor="middle" fill="#000" font-weight="normal" stroke="#000" stroke-width="0.18" transform="translate(258.20 366.20) scale(1 1.08)">-2.0</text>
<line x1="279.35" y1="353.30" x2="279.35" y2="354.60" stroke="#383838" stroke-width="0.95"/>
<line x1="300.50" y1="353.30" x2="300.50" y2="355.60" stroke="#383838" stroke-width="0.95"/>
<text font-size="9.4" text-anchor="middle" fill="#000" font-weight="normal" stroke="#000" stroke-width="0.18" transform="translate(300.50 366.20) scale(1 1.08)">-1.5</text>
<line x1="321.65" y1="353.30" x2="321.65" y2="354.60" stroke="#383838" stroke-width="0.95"/>
<line x1="342.80" y1="353.30" x2="342.80" y2="355.60" stroke="#383838" stroke-width="0.95"/>
<text font-size="9.4" text-anchor="middle" fill="#000" font-weight="normal" stroke="#000" stroke-width="0.18" transform="translate(342.80 366.20) scale(1 1.08)">-1.0</text>
<line x1="363.95" y1="353.30" x2="363.95" y2="354.60" stroke="#383838" stroke-width="0.95"/>
<line x1="385.10" y1="353.30" x2="385.10" y2="355.60" stroke="#383838" stroke-width="0.95"/>
<text font-size="9.4" text-anchor="middle" fill="#000" font-weight="normal" stroke="#000" stroke-width="0.18" transform="translate(385.10 366.20) scale(1 1.08)">-0.5</text>
<line x1="406.25" y1="353.30" x2="406.25" y2="354.60" stroke="#383838" stroke-width="0.95"/>
<line x1="427.40" y1="353.30" x2="427.40" y2="355.60" stroke="#383838" stroke-width="0.95"/>
<text font-size="9.4" text-anchor="middle" fill="#000" font-weight="normal" stroke="#000" stroke-width="0.18" transform="translate(427.40 366.20) scale(1 1.08)">0.0</text>
<text font-size="9.2" text-anchor="middle" fill="#000" font-weight="normal" stroke="#000" stroke-width="0.18" transform="translate(345.20 380.20) scale(1 1.08)">ln(p<tspan font-size="7" dy="2.6">O2</tspan><tspan dy="-2.6">)</tspan></text>
<text stroke="#000" stroke-width="0.18" font-size="9.2" text-anchor="middle" transform="translate(237.7 280.6) rotate(-90)">ln(k)</text>
<line x1="290.50" y1="266.63" x2="407.30" y2="225.18" stroke="#c86a28" stroke-width="0.9"/>
<line x1="290.60" y1="339.45" x2="407.30" y2="272.64" stroke="#30b088" stroke-width="0.9"/>
<circle cx="290.50" cy="267.20" r="2.4" fill="url(#gr)"/>
<circle cx="367.80" cy="237.50" r="2.4" fill="url(#gr)"/>
<circle cx="407.30" cy="226.30" r="2.4" fill="url(#gr)"/>
<circle cx="290.60" cy="338.10" r="2.4" fill="url(#gg)"/>
<circle cx="367.70" cy="299.30" r="2.4" fill="url(#gg)"/>
<circle cx="407.30" cy="270.00" r="2.4" fill="url(#gg)"/>
<circle cx="275.40" cy="217.80" r="2.6" fill="url(#gg)"/>
<circle cx="275.40" cy="226.70" r="2.6" fill="url(#gr)"/>
<text font-size="6.7" text-anchor="start" fill="#000" font-weight="normal" stroke="#000" stroke-width="0.18" transform="translate(284.70 220.41) scale(1 1.18)">Co-N-C</text>
<text font-size="6.7" text-anchor="start" fill="#000" font-weight="normal" stroke="#000" stroke-width="0.18" transform="translate(284.70 229.31) scale(1 1.18)">CoRu-N-C</text>
<text font-size="7.0" text-anchor="start" fill="#000" font-weight="normal" stroke="#000" stroke-width="0.18" transform="translate(320.90 271.78) scale(1 1.12)">n=0.51</text>
<text font-size="7.0" text-anchor="start" fill="#000" font-weight="normal" stroke="#000" stroke-width="0.18" transform="translate(396.10 296.08) scale(1 1.12)">n=0.82</text>
<text font-size="19.3" text-anchor="start" fill="#000" font-weight="bold" stroke="#000" stroke-width="0" transform="translate(466.20 206.90) scale(1 1.0)">f</text>
<rect x="495.60" y="207.60" width="178.90" height="145.90" fill="none" stroke="#383838" stroke-width="0.95"/>
<line x1="495.60" y1="279.80" x2="674.50" y2="279.80" stroke="#383838" stroke-width="0.95"/>
<line x1="520.50" y1="353.50" x2="520.50" y2="355.80" stroke="#383838" stroke-width="0.95"/>
<text font-size="9.4" text-anchor="middle" fill="#000" font-weight="normal" stroke="#000" stroke-width="0.18" transform="translate(520.50 365.60) scale(1 1.08)">2400</text>
<line x1="571.70" y1="353.50" x2="571.70" y2="355.80" stroke="#383838" stroke-width="0.95"/>
<text font-size="9.4" text-anchor="middle" fill="#000" font-weight="normal" stroke="#000" stroke-width="0.18" transform="translate(571.70 365.60) scale(1 1.08)">2200</text>
<line x1="622.90" y1="353.50" x2="622.90" y2="355.80" stroke="#383838" stroke-width="0.95"/>
<text font-size="9.4" text-anchor="middle" fill="#000" font-weight="normal" stroke="#000" stroke-width="0.18" transform="translate(622.90 365.60) scale(1 1.08)">2000</text>
<line x1="674.10" y1="353.50" x2="674.10" y2="355.80" stroke="#383838" stroke-width="0.95"/>
<text font-size="9.4" text-anchor="middle" fill="#000" font-weight="normal" stroke="#000" stroke-width="0.18" transform="translate(674.10 365.60) scale(1 1.08)">1800</text>
<line x1="546.10" y1="353.50" x2="546.10" y2="354.80" stroke="#383838" stroke-width="0.95"/>
<line x1="597.30" y1="353.50" x2="597.30" y2="354.80" stroke="#383838" stroke-width="0.95"/>
<line x1="648.50" y1="353.50" x2="648.50" y2="354.80" stroke="#383838" stroke-width="0.95"/>
<text font-size="9.5" text-anchor="middle" fill="#000" font-weight="normal" stroke="#000" stroke-width="0.18" transform="translate(584.80 379.90) scale(1 1.08)">Wavenumber (cm<tspan font-size="6.5" dy="-3.5">-1</tspan><tspan dy="3.5">)</tspan></text>
<text stroke="#000" stroke-width="0.18" font-size="10.1" text-anchor="middle" transform="translate(489.8 281.5) rotate(-90) scale(1 1.08)">Intensity (arb.units)</text>
<path d="M496.10,263.23 L496.35,263.29 L496.59,263.14 L496.84,263.10 L497.09,263.03 L497.34,263.07 L497.58,263.18 L497.83,263.20 L498.08,263.10 L498.33,263.14 L498.57,263.12 L498.82,263.13 L499.07,263.18 L499.32,263.21 L499.56,263.15 L499.81,263.06 L500.06,263.07 L500.31,263.11 L500.55,263.05 L500.80,262.92 L501.05,263.04 L501.30,262.98 L501.54,262.96 L501.79,262.96 L502.04,262.99 L502.29,263.00 L502.53,263.00 L502.78,263.03 L503.03,263.01 L503.28,263.01 L503.52,263.05 L503.77,263.01 L504.02,263.02 L504.27,262.88 L504.51,262.84 L504.76,262.80 L505.01,262.66 L505.25,262.74 L505.50,262.68 L505.75,262.67 L506.00,262.68 L506.24,262.70 L506.49,262.82 L506.74,262.80 L506.99,262.83 L507.23,262.96 L507.48,262.83 L507.73,262.85 L507.98,262.80 L508.22,262.75 L508.47,262.78 L508.72,262.81 L508.97,262.77 L509.21,262.69 L509.46,262.68 L509.71,262.75 L509.96,262.72 L510.20,262.65 L510.45,262.68 L510.70,262.65 L510.95,262.58 L511.19,262.60 L511.44,262.71 L511.69,262.70 L511.94,262.78 L512.18,262.81 L512.43,262.93 L512.68,262.85 L512.93,262.75 L513.17,262.68 L513.42,262.77 L513.67,262.68 L513.91,262.62 L514.16,262.51 L514.41,262.42 L514.66,262.23 L514.90,262.39 L515.15,262.41 L515.40,262.47 L515.65,262.29 L515.89,262.27 L516.14,262.28 L516.39,262.29 L516.64,262.35 L516.88,262.42 L517.13,262.32 L517.38,262.35 L517.63,262.36 L517.87,262.42 L518.12,262.40 L518.37,262.33 L518.62,262.34 L518.86,262.28 L519.11,262.26 L519.36,262.27 L519.61,262.14 L519.85,262.08 L520.10,262.09 L520.35,262.14 L520.60,262.17 L520.84,262.15 L521.09,262.20 L521.34,262.24 L521.58,262.18 L521.83,262.27 L522.08,262.31 L522.33,262.28 L522.57,262.29 L522.82,262.33 L523.07,262.31 L523.32,262.30 L523.56,262.39 L523.81,262.40 L524.06,262.37 L524.31,262.33 L524.55,262.35 L524.80,262.24 L525.05,262.25 L525.30,262.31 L525.54,262.28 L525.79,262.17 L526.04,262.22 L526.29,262.40 L526.53,262.62 L526.78,262.80 L527.03,263.07 L527.28,263.25 L527.52,263.48 L527.77,263.82 L528.02,263.99 L528.27,264.25 L528.51,264.44 L528.76,264.43 L529.01,264.22 L529.26,263.89 L529.50,263.62 L529.75,263.27 L530.00,262.83 L530.24,262.57 L530.49,262.23 L530.74,261.90 L530.99,261.74 L531.23,261.67 L531.48,261.73 L531.73,261.79 L531.98,261.86 L532.22,261.87 L532.47,261.94 L532.72,262.01 L532.97,262.09 L533.21,262.12 L533.46,262.24 L533.71,262.24 L533.96,262.23 L534.20,262.23 L534.45,262.22 L534.70,262.22 L534.95,262.31 L535.19,262.30 L535.44,262.39 L535.69,262.37 L535.94,262.35 L536.18,262.34 L536.43,262.34 L536.68,262.49 L536.93,262.56 L537.17,262.44 L537.42,262.47 L537.67,262.36 L537.92,262.34 L538.16,262.35 L538.41,262.36 L538.66,262.33 L538.90,262.32 L539.15,262.23 L539.40,262.31 L539.65,262.29 L539.89,262.35 L540.14,262.30 L540.39,262.33 L540.64,262.32 L540.88,262.34 L541.13,262.28 L541.38,262.29 L541.63,262.27 L541.87,262.27 L542.12,262.30 L542.37,262.43 L542.62,262.38 L542.86,262.45 L543.11,262.28 L543.36,262.33 L543.61,262.30 L543.85,262.37 L544.10,262.31 L544.35,262.32 L544.60,262.19 L544.84,262.17 L545.09,262.11 L545.34,262.27 L545.59,262.19 L545.83,262.32 L546.08,262.21 L546.33,262.31 L546.58,262.21 L546.82,262.20 L547.07,262.25 L547.32,262.16 L547.56,262.14 L547.81,262.06 L548.06,261.96 L548.31,261.94 L548.55,261.82 L548.80,261.86 L549.05,261.89 L549.30,261.86 L549.54,261.93 L549.79,261.91 L550.04,262.02 L550.29,262.06 L550.53,262.07 L550.78,262.14 L551.03,262.11 L551.28,262.14 L551.52,262.17 L551.77,262.10 L552.02,262.02 L552.27,261.93 L552.51,261.82 L552.76,261.84 L553.01,261.79 L553.26,261.79 L553.50,261.78 L553.75,261.78 L554.00,261.85 L554.25,261.89 L554.49,261.96 L554.74,262.02 L554.99,261.95 L555.24,261.95 L555.48,261.92 L555.73,261.88 L555.98,261.86 L556.22,261.71 L556.47,261.69 L556.72,261.62 L556.97,261.59 L557.21,261.59 L557.46,261.59 L557.71,261.58 L557.96,261.56 L558.20,261.56 L558.45,261.64 L558.70,261.68 L558.95,261.71 L559.19,261.74 L559.44,261.82 L559.69,261.78 L559.94,261.78 L560.18,261.73 L560.43,261.75 L560.68,261.67 L560.93,261.57 L561.17,261.55 L561.42,261.52 L561.67,261.38 L561.92,261.36 L562.16,261.30 L562.41,261.28 L562.66,261.24 L562.91,261.26 L563.15,261.28 L563.40,261.24 L563.65,261.17 L563.89,261.14 L564.14,260.93 L564.39,260.69 L564.64,260.52 L564.88,260.12 L565.13,259.87 L565.38,259.56 L565.63,259.33 L565.87,259.06 L566.12,258.76 L566.37,258.61 L566.62,258.33 L566.86,257.89 L567.11,257.47 L567.36,256.89 L567.61,256.41 L567.85,255.82 L568.10,255.28 L568.35,254.86 L568.60,254.20 L568.84,253.69 L569.09,253.17 L569.34,252.69 L569.59,252.27 L569.83,251.79 L570.08,251.27 L570.33,250.65 L570.58,250.04 L570.82,249.41 L571.07,248.77 L571.32,248.16 L571.57,247.53 L571.81,246.83 L572.06,246.11 L572.31,245.38 L572.55,244.70 L572.80,243.96 L573.05,243.47 L573.30,243.03 L573.54,242.68 L573.79,242.27 L574.04,241.95 L574.29,241.56 L574.53,241.20 L574.78,240.79 L575.03,240.41 L575.28,240.01 L575.52,239.64 L575.77,239.12 L576.02,238.78 L576.27,238.50 L576.51,238.25 L576.76,238.05 L577.01,237.90 L577.26,237.76 L577.50,237.58 L577.75,237.42 L578.00,237.40 L578.25,237.28 L578.49,237.04 L578.74,236.99 L578.99,237.04 L579.24,237.12 L579.48,237.16 L579.73,237.28 L579.98,237.39 L580.23,237.42 L580.47,237.47 L580.72,237.60 L580.97,237.68 L581.21,237.94 L581.46,238.38 L581.71,239.03 L581.96,239.65 L582.20,240.26 L582.45,240.91 L582.70,241.58 L582.95,242.13 L583.19,242.96 L583.44,243.82 L583.69,244.96 L583.94,246.17 L584.18,247.56 L584.43,248.88 L584.68,250.16 L584.93,251.49 L585.17,252.89 L585.42,254.16 L585.67,255.52 L585.92,256.82 L586.16,257.80 L586.41,257.89 L586.66,257.16 L586.91,256.01 L587.15,254.83 L587.40,253.70 L587.65,252.64 L587.90,251.58 L588.14,250.52 L588.39,249.50 L588.64,248.41 L588.89,247.49 L589.13,246.53 L589.38,245.49 L589.63,244.53 L589.87,243.83 L590.12,243.40 L590.37,243.21 L590.62,242.97 L590.86,242.73 L591.11,242.49 L591.36,242.18 L591.61,241.94 L591.85,241.78 L592.10,241.51 L592.35,241.51 L592.60,241.59 L592.84,241.77 L593.09,241.98 L593.34,242.01 L593.59,242.10 L593.83,242.33 L594.08,242.41 L594.33,242.68 L594.58,242.87 L594.82,243.09 L595.07,243.39 L595.32,243.69 L595.57,244.10 L595.81,244.51 L596.06,244.77 L596.31,245.06 L596.56,245.29 L596.80,245.54 L597.05,245.83 L597.30,246.12 L597.55,246.47 L597.79,246.73 L598.04,247.01 L598.29,247.35 L598.53,247.68 L598.78,248.01 L599.03,248.34 L599.28,248.61 L599.52,248.84 L599.77,249.06 L600.02,249.31 L600.27,249.58 L600.51,249.80 L600.76,250.08 L601.01,250.34 L601.26,250.54 L601.50,250.85 L601.75,251.29 L602.00,251.63 L602.25,252.01 L602.49,252.37 L602.74,252.72 L602.99,253.02 L603.24,253.34 L603.48,253.76 L603.73,254.02 L603.98,254.27 L604.23,254.56 L604.47,254.90 L604.72,255.19 L604.97,255.48 L605.22,255.80 L605.46,256.09 L605.71,256.20 L605.96,256.43 L606.21,256.67 L606.45,256.86 L606.70,256.98 L606.95,257.31 L607.19,257.50 L607.44,257.66 L607.69,257.86 L607.94,258.16 L608.18,258.46 L608.43,258.55 L608.68,258.73 L608.93,258.96 L609.17,259.00 L609.42,259.15 L609.67,259.26 L609.92,259.37 L610.16,259.35 L610.41,259.34 L610.66,259.53 L610.91,259.60 L611.15,259.63 L611.40,259.75 L611.65,259.92 L611.90,260.10 L612.14,260.22 L612.39,260.37 L612.64,260.44 L612.89,260.40 L613.13,260.44 L613.38,260.49 L613.63,260.60 L613.88,260.60 L614.12,260.65 L614.37,260.65 L614.62,260.60 L614.86,260.63 L615.11,260.72 L615.36,260.78 L615.61,260.70 L615.85,260.58 L616.10,260.58 L616.35,260.57 L616.60,260.61 L616.84,260.74 L617.09,260.81 L617.34,260.74 L617.59,260.72 L617.83,260.92 L618.08,261.06 L618.33,261.04 L618.58,261.13 L618.82,261.18 L619.07,261.18 L619.32,261.21 L619.57,261.34 L619.81,261.36 L620.06,261.36 L620.31,261.30 L620.56,261.36 L620.80,261.33 L621.05,261.28 L621.30,261.29 L621.55,261.31 L621.79,261.25 L622.04,261.24 L622.29,261.17 L622.54,261.18 L622.78,261.19 L623.03,261.29 L623.28,261.39 L623.52,261.43 L623.77,261.41 L624.02,261.42 L624.27,261.41 L624.51,261.39 L624.76,261.48 L625.01,261.42 L625.26,261.29 L625.50,261.20 L625.75,261.19 L626.00,261.13 L626.25,261.14 L626.49,261.17 L626.74,261.28 L626.99,261.16 L627.24,261.18 L627.48,261.18 L627.73,261.19 L627.98,261.25 L628.23,261.30 L628.47,261.28 L628.72,261.29 L628.97,261.23 L629.22,261.33 L629.46,261.29 L629.71,261.34 L629.96,261.35 L630.21,261.28 L630.45,261.24 L630.70,261.23 L630.95,261.21 L631.20,261.25 L631.44,261.17 L631.69,261.18 L631.94,261.17 L632.18,261.14 L632.43,261.18 L632.68,261.21 L632.93,261.14 L633.17,261.10 L633.42,261.01 L633.67,261.07 L633.92,261.13 L634.16,261.05 L634.41,261.06 L634.66,261.01 L634.91,260.96 L635.15,261.09 L635.40,261.16 L635.65,261.23 L635.90,261.24 L636.14,261.24 L636.39,261.29 L636.64,261.30 L636.89,261.26 L637.13,261.31 L637.38,261.32 L637.63,261.32 L637.88,261.28 L638.12,261.21 L638.37,261.18 L638.62,261.23 L638.87,261.27 L639.11,261.31 L639.36,261.23 L639.61,261.21 L639.86,261.19 L640.10,261.16 L640.35,261.25 L640.60,261.20 L640.84,261.18 L641.09,261.15 L641.34,261.15 L641.59,261.15 L641.83,261.10 L642.08,261.11 L642.33,261.14 L642.58,261.04 L642.82,261.12 L643.07,261.11 L643.32,261.12 L643.57,261.12 L643.81,261.23 L644.06,261.24 L644.31,261.23 L644.56,261.25 L644.80,261.21 L645.05,261.08 L645.30,261.05 L645.55,261.08 L645.79,261.08 L646.04,260.98 L646.29,260.95 L646.54,260.97 L646.78,260.93 L647.03,260.92 L647.28,261.04 L647.53,261.04 L647.77,261.01 L648.02,261.05 L648.27,261.13 L648.52,261.18 L648.76,261.13 L649.01,261.05 L649.26,261.13 L649.50,261.09 L649.75,261.14 L650.00,261.18 L650.25,261.15 L650.49,261.15 L650.74,261.12 L650.99,261.12 L651.24,261.18 L651.48,261.15 L651.73,261.16 L651.98,261.15 L652.23,261.06 L652.47,261.07 L652.72,261.11 L652.97,261.05 L653.22,261.04 L653.46,261.07 L653.71,261.13 L653.96,261.21 L654.21,261.21 L654.45,261.24 L654.70,261.16 L654.95,261.06 L655.20,261.11 L655.44,261.13 L655.69,261.09 L655.94,261.11 L656.19,260.99 L656.43,260.96 L656.68,260.97 L656.93,260.96 L657.17,260.96 L657.42,260.96 L657.67,260.94 L657.92,261.01 L658.16,260.92 L658.41,261.06 L658.66,261.08 L658.91,261.03 L659.15,260.97 L659.40,261.02 L659.65,261.02 L659.90,261.03 L660.14,260.95 L660.39,260.91 L660.64,260.71 L660.89,260.77 L661.13,260.88 L661.38,260.96 L661.63,260.99 L661.88,260.89 L662.12,260.92 L662.37,260.99 L662.62,261.01 L662.87,261.07 L663.11,260.91 L663.36,260.84 L663.61,260.92 L663.86,260.88 L664.10,260.98 L664.35,260.99 L664.60,260.88 L664.85,261.01 L665.09,261.02 L665.34,261.01 L665.59,260.99 L665.83,260.90 L666.08,260.86 L666.33,260.85 L666.58,260.69 L666.82,260.83 L667.07,260.81 L667.32,260.77 L667.57,260.89 L667.81,260.96 L668.06,261.03 L668.31,261.09 L668.56,261.02 L668.80,261.15 L669.05,261.05 L669.30,261.07 L669.55,261.07 L669.79,260.95 L670.04,260.94 L670.29,260.92 L670.54,260.85 L670.78,260.91 L671.03,260.91 L671.28,261.03 L671.53,260.89 L671.77,260.90 L672.02,260.93 L672.27,260.87 L672.52,260.85 L672.76,260.79 L673.01,260.79 L673.26,260.70 L673.51,260.61 L673.75,260.63 L674.00,260.64" fill="none" stroke="#f53232" stroke-width="1.0" stroke-linejoin="round" opacity="1"/>
<path d="M496.10,268.97 L496.35,269.08 L496.59,269.04 L496.84,268.95 L497.09,268.91 L497.34,268.93 L497.58,268.94 L497.83,268.88 L498.08,268.91 L498.33,269.08 L498.57,269.14 L498.82,269.12 L499.07,268.91 L499.32,269.05 L499.56,269.11 L499.81,269.15 L500.06,269.03 L500.31,269.05 L500.55,269.07 L500.80,269.11 L501.05,269.27 L501.30,269.23 L501.54,269.18 L501.79,269.16 L502.04,269.15 L502.29,269.29 L502.53,269.28 L502.78,269.03 L503.03,269.21 L503.28,269.21 L503.52,269.31 L503.77,269.27 L504.02,269.01 L504.27,269.06 L504.51,269.03 L504.76,269.06 L505.01,269.05 L505.25,269.16 L505.50,269.23 L505.75,269.39 L506.00,269.52 L506.24,269.40 L506.49,269.39 L506.74,269.29 L506.99,269.12 L507.23,269.31 L507.48,269.19 L507.73,269.18 L507.98,269.35 L508.22,269.31 L508.47,269.41 L508.72,269.39 L508.97,269.36 L509.21,269.30 L509.46,269.20 L509.71,269.30 L509.96,269.34 L510.20,269.27 L510.45,269.24 L510.70,269.05 L510.95,269.45 L511.19,269.58 L511.44,269.36 L511.69,269.34 L511.94,269.35 L512.18,269.55 L512.43,269.60 L512.68,269.48 L512.93,269.45 L513.17,269.72 L513.42,269.73 L513.67,269.81 L513.91,269.59 L514.16,269.53 L514.41,269.46 L514.66,269.40 L514.90,269.44 L515.15,269.40 L515.40,269.31 L515.65,269.49 L515.89,269.48 L516.14,269.48 L516.39,269.51 L516.64,269.24 L516.88,269.36 L517.13,269.43 L517.38,269.44 L517.63,269.46 L517.87,269.30 L518.12,269.20 L518.37,269.22 L518.62,269.08 L518.86,269.08 L519.11,269.03 L519.36,268.95 L519.61,269.10 L519.85,269.10 L520.10,269.08 L520.35,269.32 L520.60,269.42 L520.84,269.35 L521.09,269.61 L521.34,269.71 L521.58,269.89 L521.83,270.08 L522.08,269.83 L522.33,269.71 L522.57,269.67 L522.82,269.57 L523.07,269.34 L523.32,269.22 L523.56,269.13 L523.81,269.11 L524.06,269.15 L524.31,269.38 L524.55,269.25 L524.80,269.47 L525.05,269.46 L525.30,269.34 L525.54,269.40 L525.79,269.46 L526.04,269.25 L526.29,269.27 L526.53,269.13 L526.78,269.14 L527.03,269.28 L527.28,269.27 L527.52,269.27 L527.77,269.53 L528.02,269.76 L528.27,270.13 L528.51,270.37 L528.76,270.47 L529.01,270.80 L529.26,270.92 L529.50,270.72 L529.75,270.52 L530.00,270.06 L530.24,269.66 L530.49,269.41 L530.74,268.96 L530.99,268.77 L531.23,268.54 L531.48,268.58 L531.73,268.68 L531.98,268.82 L532.22,268.87 L532.47,268.94 L532.72,268.82 L532.97,269.00 L533.21,269.04 L533.46,268.92 L533.71,268.96 L533.96,268.80 L534.20,268.79 L534.45,268.94 L534.70,268.98 L534.95,268.92 L535.19,268.96 L535.44,269.04 L535.69,269.17 L535.94,269.30 L536.18,269.30 L536.43,269.30 L536.68,269.46 L536.93,269.58 L537.17,269.70 L537.42,269.90 L537.67,269.97 L537.92,270.22 L538.16,270.49 L538.41,270.59 L538.66,270.83 L538.90,270.96 L539.15,271.12 L539.40,271.19 L539.65,271.03 L539.89,270.72 L540.14,270.59 L540.39,270.41 L540.64,270.28 L540.88,270.09 L541.13,270.00 L541.38,270.04 L541.63,270.08 L541.87,269.89 L542.12,269.88 L542.37,269.65 L542.62,269.54 L542.86,269.53 L543.11,269.41 L543.36,269.50 L543.61,269.45 L543.85,269.38 L544.10,269.53 L544.35,269.44 L544.60,269.33 L544.84,269.32 L545.09,269.03 L545.34,269.28 L545.59,269.22 L545.83,269.11 L546.08,269.36 L546.33,269.19 L546.58,269.20 L546.82,269.36 L547.07,269.22 L547.32,269.22 L547.56,269.34 L547.81,269.10 L548.06,269.29 L548.31,269.30 L548.55,269.33 L548.80,269.30 L549.05,269.35 L549.30,269.32 L549.54,269.45 L549.79,269.41 L550.04,269.27 L550.29,269.30 L550.53,269.36 L550.78,269.38 L551.03,269.42 L551.28,269.22 L551.52,269.44 L551.77,269.52 L552.02,269.40 L552.27,269.21 L552.51,269.29 L552.76,269.21 L553.01,269.36 L553.26,269.14 L553.50,269.17 L553.75,269.23 L554.00,269.48 L554.25,269.46 L554.49,269.40 L554.74,269.28 L554.99,269.40 L555.24,269.34 L555.48,269.29 L555.73,269.30 L555.98,269.29 L556.22,269.13 L556.47,269.13 L556.72,268.98 L556.97,268.91 L557.21,268.99 L557.46,269.10 L557.71,269.31 L557.96,269.48 L558.20,269.69 L558.45,269.80 L558.70,269.90 L558.95,269.79 L559.19,269.66 L559.44,269.39 L559.69,269.43 L559.94,269.42 L560.18,269.27 L560.43,269.43 L560.68,269.56 L560.93,269.49 L561.17,269.47 L561.42,269.49 L561.67,269.52 L561.92,269.54 L562.16,269.44 L562.41,269.40 L562.66,269.28 L562.91,269.28 L563.15,269.28 L563.40,269.24 L563.65,269.38 L563.89,269.27 L564.14,269.28 L564.39,269.39 L564.64,269.47 L564.88,269.41 L565.13,269.28 L565.38,269.06 L565.63,269.22 L565.87,269.33 L566.12,269.27 L566.37,269.34 L566.62,269.35 L566.86,269.47 L567.11,269.71 L567.36,269.57 L567.61,269.41 L567.85,269.32 L568.10,269.22 L568.35,269.26 L568.60,269.30 L568.84,269.24 L569.09,269.29 L569.34,269.46 L569.59,269.52 L569.83,269.53 L570.08,269.53 L570.33,269.45 L570.58,269.54 L570.82,269.57 L571.07,269.59 L571.32,269.76 L571.57,269.71 L571.81,269.83 L572.06,269.93 L572.31,269.79 L572.55,269.74 L572.80,269.54 L573.05,269.45 L573.30,269.44 L573.54,269.29 L573.79,269.16 L574.04,269.21 L574.29,269.21 L574.53,269.16 L574.78,269.13 L575.03,269.08 L575.28,268.95 L575.52,268.96 L575.77,268.99 L576.02,268.90 L576.27,268.87 L576.51,268.90 L576.76,269.23 L577.01,269.29 L577.26,269.34 L577.50,269.22 L577.75,269.39 L578.00,269.69 L578.25,269.69 L578.49,269.53 L578.74,269.49 L578.99,269.49 L579.24,269.41 L579.48,269.36 L579.73,269.18 L579.98,269.21 L580.23,269.01 L580.47,269.13 L580.72,269.12 L580.97,269.18 L581.21,269.09 L581.46,269.05 L581.71,268.99 L581.96,269.12 L582.20,269.09 L582.45,269.09 L582.70,269.25 L582.95,269.29 L583.19,269.42 L583.44,269.53 L583.69,269.54 L583.94,269.58 L584.18,269.58 L584.43,269.63 L584.68,269.65 L584.93,269.60 L585.17,269.58 L585.42,269.67 L585.67,269.76 L585.92,269.76 L586.16,269.66 L586.41,269.71 L586.66,269.75 L586.91,269.76 L587.15,269.67 L587.40,269.56 L587.65,269.71 L587.90,269.60 L588.14,269.68 L588.39,269.85 L588.64,269.98 L588.89,269.95 L589.13,269.92 L589.38,269.64 L589.63,269.66 L589.87,269.75 L590.12,269.44 L590.37,269.12 L590.62,269.17 L590.86,269.24 L591.11,269.22 L591.36,269.22 L591.61,269.04 L591.85,269.04 L592.10,269.26 L592.35,269.07 L592.60,269.12 L592.84,269.29 L593.09,269.24 L593.34,269.07 L593.59,269.17 L593.83,269.08 L594.08,269.18 L594.33,269.03 L594.58,269.00 L594.82,269.13 L595.07,269.19 L595.32,269.21 L595.57,269.25 L595.81,269.26 L596.06,269.39 L596.31,269.54 L596.56,269.43 L596.80,269.53 L597.05,269.30 L597.30,269.23 L597.55,269.29 L597.79,269.11 L598.04,269.10 L598.29,268.96 L598.53,269.06 L598.78,269.27 L599.03,269.21 L599.28,269.11 L599.52,269.18 L599.77,268.98 L600.02,269.03 L600.27,268.86 L600.51,268.99 L600.76,269.11 L601.01,269.27 L601.26,269.24 L601.50,269.30 L601.75,269.39 L602.00,269.44 L602.25,269.40 L602.49,269.52 L602.74,269.46 L602.99,269.53 L603.24,269.68 L603.48,269.64 L603.73,269.51 L603.98,269.53 L604.23,269.39 L604.47,269.34 L604.72,269.41 L604.97,269.26 L605.22,269.32 L605.46,269.47 L605.71,269.46 L605.96,269.53 L606.21,269.53 L606.45,269.48 L606.70,269.30 L606.95,269.41 L607.19,269.24 L607.44,269.18 L607.69,269.32 L607.94,269.28 L608.18,269.12 L608.43,269.47 L608.68,269.31 L608.93,269.43 L609.17,269.42 L609.42,269.27 L609.67,269.36 L609.92,269.49 L610.16,269.45 L610.41,269.42 L610.66,269.49 L610.91,269.45 L611.15,269.45 L611.40,269.32 L611.65,269.29 L611.90,269.32 L612.14,269.31 L612.39,269.15 L612.64,269.25 L612.89,269.17 L613.13,269.19 L613.38,269.21 L613.63,269.27 L613.88,269.27 L614.12,269.35 L614.37,269.32 L614.62,269.26 L614.86,269.29 L615.11,269.35 L615.36,269.09 L615.61,269.27 L615.85,269.20 L616.10,269.17 L616.35,269.28 L616.60,269.55 L616.84,269.36 L617.09,269.46 L617.34,269.59 L617.59,269.63 L617.83,269.74 L618.08,269.73 L618.33,269.33 L618.58,269.52 L618.82,269.41 L619.07,269.21 L619.32,269.13 L619.57,269.10 L619.81,268.87 L620.06,268.98 L620.31,269.06 L620.56,269.18 L620.80,269.14 L621.05,269.25 L621.30,269.15 L621.55,269.59 L621.79,269.60 L622.04,269.49 L622.29,269.38 L622.54,269.37 L622.78,269.44 L623.03,269.42 L623.28,269.12 L623.52,269.08 L623.77,269.05 L624.02,269.13 L624.27,269.13 L624.51,269.06 L624.76,269.05 L625.01,269.22 L625.26,269.28 L625.50,269.28 L625.75,269.29 L626.00,269.33 L626.25,269.21 L626.49,269.26 L626.74,269.29 L626.99,269.33 L627.24,269.46 L627.48,269.37 L627.73,269.25 L627.98,269.33 L628.23,269.46 L628.47,269.23 L628.72,269.12 L628.97,269.11 L629.22,269.15 L629.46,269.26 L629.71,269.35 L629.96,269.24 L630.21,269.30 L630.45,269.39 L630.70,269.24 L630.95,269.25 L631.20,269.33 L631.44,269.20 L631.69,269.18 L631.94,269.11 L632.18,269.15 L632.43,269.26 L632.68,269.35 L632.93,269.38 L633.17,269.56 L633.42,269.64 L633.67,269.67 L633.92,269.68 L634.16,269.55 L634.41,269.67 L634.66,269.61 L634.91,269.57 L635.15,269.41 L635.40,269.56 L635.65,269.58 L635.90,269.53 L636.14,269.28 L636.39,269.22 L636.64,269.11 L636.89,269.33 L637.13,269.43 L637.38,269.23 L637.63,269.46 L637.88,269.48 L638.12,269.64 L638.37,269.49 L638.62,269.33 L638.87,269.25 L639.11,269.28 L639.36,269.29 L639.61,269.27 L639.86,269.25 L640.10,269.51 L640.35,269.51 L640.60,269.34 L640.84,269.39 L641.09,269.39 L641.34,269.43 L641.59,269.27 L641.83,269.51 L642.08,269.41 L642.33,269.46 L642.58,269.52 L642.82,269.33 L643.07,269.33 L643.32,269.35 L643.57,268.94 L643.81,269.11 L644.06,269.03 L644.31,268.92 L644.56,269.12 L644.80,269.02 L645.05,269.11 L645.30,269.34 L645.55,269.38 L645.79,269.52 L646.04,269.57 L646.29,269.34 L646.54,269.45 L646.78,269.43 L647.03,269.29 L647.28,269.12 L647.53,269.15 L647.77,269.08 L648.02,269.24 L648.27,269.19 L648.52,269.00 L648.76,269.19 L649.01,269.32 L649.26,269.29 L649.50,269.26 L649.75,269.21 L650.00,269.28 L650.25,269.36 L650.49,269.36 L650.74,269.14 L650.99,269.15 L651.24,269.11 L651.48,268.98 L651.73,268.85 L651.98,268.96 L652.23,268.76 L652.47,268.87 L652.72,268.73 L652.97,268.77 L653.22,268.82 L653.46,268.85 L653.71,268.77 L653.96,268.80 L654.21,268.65 L654.45,268.67 L654.70,268.90 L654.95,268.93 L655.20,269.01 L655.44,268.97 L655.69,268.95 L655.94,269.14 L656.19,269.08 L656.43,268.96 L656.68,268.86 L656.93,268.89 L657.17,268.82 L657.42,268.93 L657.67,269.02 L657.92,269.00 L658.16,269.07 L658.41,269.17 L658.66,269.24 L658.91,269.33 L659.15,269.25 L659.40,269.14 L659.65,269.38 L659.90,269.16 L660.14,269.26 L660.39,269.17 L660.64,269.17 L660.89,269.17 L661.13,269.28 L661.38,269.24 L661.63,269.55 L661.88,269.43 L662.12,269.26 L662.37,269.25 L662.62,269.26 L662.87,269.14 L663.11,269.17 L663.36,269.22 L663.61,269.31 L663.86,269.32 L664.10,269.45 L664.35,269.41 L664.60,269.46 L664.85,269.42 L665.09,269.26 L665.34,269.22 L665.59,269.40 L665.83,269.37 L666.08,269.48 L666.33,269.66 L666.58,269.33 L666.82,269.23 L667.07,269.18 L667.32,269.23 L667.57,269.18 L667.81,269.20 L668.06,268.90 L668.31,269.14 L668.56,269.26 L668.80,269.31 L669.05,269.20 L669.30,269.21 L669.55,269.28 L669.79,269.22 L670.04,269.37 L670.29,269.34 L670.54,269.27 L670.78,269.36 L671.03,269.34 L671.28,269.30 L671.53,269.42 L671.77,269.36 L672.02,269.26 L672.27,269.36 L672.52,269.37 L672.76,269.36 L673.01,269.31 L673.26,269.32 L673.51,269.33 L673.75,269.37 L674.00,269.28" fill="none" stroke="#333" stroke-width="0.9" stroke-linejoin="round" opacity="1"/>
<path d="M496.10,324.37 L496.35,324.44 L496.59,324.41 L496.84,324.45 L497.09,324.42 L497.34,324.35 L497.58,324.26 L497.83,324.30 L498.08,324.26 L498.33,324.30 L498.57,324.25 L498.82,324.28 L499.07,324.25 L499.32,324.30 L499.56,324.26 L499.81,324.32 L500.06,324.33 L500.31,324.35 L500.55,324.32 L500.80,324.45 L501.05,324.44 L501.30,324.44 L501.54,324.35 L501.79,324.41 L502.04,324.32 L502.29,324.35 L502.53,324.35 L502.78,324.33 L503.03,324.31 L503.28,324.34 L503.52,324.31 L503.77,324.29 L504.02,324.35 L504.27,324.46 L504.51,324.41 L504.76,324.36 L505.01,324.37 L505.25,324.32 L505.50,324.33 L505.75,324.27 L506.00,324.28 L506.24,324.25 L506.49,324.37 L506.74,324.35 L506.99,324.32 L507.23,324.40 L507.48,324.36 L507.73,324.31 L507.98,324.43 L508.22,324.46 L508.47,324.41 L508.72,324.24 L508.97,324.27 L509.21,324.38 L509.46,324.27 L509.71,324.34 L509.96,324.35 L510.20,324.39 L510.45,324.42 L510.70,324.46 L510.95,324.53 L511.19,324.52 L511.44,324.52 L511.69,324.67 L511.94,324.61 L512.18,324.70 L512.43,324.61 L512.68,324.60 L512.93,324.65 L513.17,324.59 L513.42,324.63 L513.67,324.55 L513.91,324.43 L514.16,324.44 L514.41,324.44 L514.66,324.52 L514.90,324.48 L515.15,324.44 L515.40,324.51 L515.65,324.43 L515.89,324.55 L516.14,324.66 L516.39,324.74 L516.64,324.68 L516.88,324.63 L517.13,324.64 L517.38,324.62 L517.63,324.61 L517.87,324.71 L518.12,324.70 L518.37,324.61 L518.62,324.59 L518.86,324.66 L519.11,324.66 L519.36,324.69 L519.61,324.71 L519.85,324.66 L520.10,324.64 L520.35,324.67 L520.60,324.80 L520.84,324.78 L521.09,324.73 L521.34,324.75 L521.58,324.80 L521.83,324.84 L522.08,324.88 L522.33,324.89 L522.57,324.89 L522.82,324.65 L523.07,324.41 L523.32,323.88 L523.56,323.22 L523.81,322.49 L524.06,321.75 L524.31,321.08 L524.55,320.38 L524.80,319.69 L525.05,319.07 L525.30,318.28 L525.54,317.64 L525.79,316.97 L526.04,316.45 L526.29,315.87 L526.53,315.56 L526.78,315.34 L527.03,315.21 L527.28,315.20 L527.52,315.15 L527.77,315.08 L528.02,315.08 L528.27,315.00 L528.51,314.91 L528.76,314.87 L529.01,314.81 L529.26,314.67 L529.50,313.87 L529.75,312.55 L530.00,310.57 L530.24,308.56 L530.49,306.62 L530.74,304.70 L530.99,303.40 L531.23,303.46 L531.48,304.89 L531.73,306.93 L531.98,308.68 L532.22,310.39 L532.47,311.91 L532.72,312.75 L532.97,313.11 L533.21,312.93 L533.46,312.83 L533.71,312.84 L533.96,312.70 L534.20,312.73 L534.45,312.54 L534.70,312.16 L534.95,311.72 L535.19,311.28 L535.44,310.79 L535.69,310.34 L535.94,309.96 L536.18,309.68 L536.43,309.40 L536.68,309.36 L536.93,309.68 L537.17,310.28 L537.42,310.83 L537.67,311.39 L537.92,311.88 L538.16,312.26 L538.41,312.68 L538.66,313.15 L538.90,313.52 L539.15,313.88 L539.40,314.20 L539.65,314.50 L539.89,314.83 L540.14,315.08 L540.39,315.40 L540.64,315.61 L540.88,315.86 L541.13,316.26 L541.38,316.49 L541.63,316.77 L541.87,317.07 L542.12,317.30 L542.37,317.53 L542.62,317.78 L542.86,318.15 L543.11,318.33 L543.36,318.42 L543.61,318.71 L543.85,318.98 L544.10,319.31 L544.35,319.55 L544.60,319.84 L544.84,320.14 L545.09,320.41 L545.34,320.75 L545.59,321.15 L545.83,321.51 L546.08,321.84 L546.33,321.98 L546.58,322.24 L546.82,322.53 L547.07,322.71 L547.32,322.97 L547.56,323.12 L547.81,323.35 L548.06,323.45 L548.31,323.63 L548.55,323.89 L548.80,324.04 L549.05,324.16 L549.30,324.37 L549.54,324.53 L549.79,324.72 L550.04,324.84 L550.29,325.00 L550.53,325.10 L550.78,325.07 L551.03,325.16 L551.28,325.14 L551.52,325.13 L551.77,325.14 L552.02,325.22 L552.27,325.25 L552.51,325.25 L552.76,325.14 L553.01,325.23 L553.26,325.17 L553.50,325.22 L553.75,325.18 L554.00,325.16 L554.25,325.10 L554.49,325.17 L554.74,325.10 L554.99,325.20 L555.24,325.15 L555.48,325.16 L555.73,325.19 L555.98,325.22 L556.22,325.25 L556.47,325.28 L556.72,325.17 L556.97,325.28 L557.21,325.26 L557.46,325.31 L557.71,325.33 L557.96,325.36 L558.20,325.42 L558.45,325.35 L558.70,325.46 L558.95,325.51 L559.19,325.48 L559.44,325.54 L559.69,325.58 L559.94,325.63 L560.18,325.67 L560.43,325.58 L560.68,325.57 L560.93,325.42 L561.17,325.38 L561.42,325.34 L561.67,325.31 L561.92,325.28 L562.16,325.16 L562.41,325.02 L562.66,324.91 L562.91,324.77 L563.15,324.65 L563.40,324.56 L563.65,324.52 L563.89,324.34 L564.14,324.11 L564.39,324.07 L564.64,324.09 L564.88,323.89 L565.13,323.74 L565.38,323.52 L565.63,323.20 L565.87,322.85 L566.12,322.60 L566.37,322.39 L566.62,322.04 L566.86,321.74 L567.11,321.61 L567.36,321.36 L567.61,320.96 L567.85,320.56 L568.10,320.12 L568.35,319.53 L568.60,319.03 L568.84,318.54 L569.09,317.86 L569.34,317.25 L569.59,316.71 L569.83,316.17 L570.08,315.56 L570.33,314.94 L570.58,314.36 L570.82,313.70 L571.07,312.97 L571.32,312.24 L571.57,311.45 L571.81,310.64 L572.06,309.79 L572.31,308.97 L572.55,308.20 L572.80,307.42 L573.05,306.64 L573.30,305.81 L573.54,305.06 L573.79,304.23 L574.04,303.52 L574.29,302.94 L574.53,302.28 L574.78,301.47 L575.03,300.77 L575.28,300.05 L575.52,299.41 L575.77,298.71 L576.02,298.10 L576.27,297.50 L576.51,296.88 L576.76,296.54 L577.01,296.46 L577.26,296.18 L577.50,296.02 L577.75,295.76 L578.00,295.48 L578.25,295.20 L578.49,294.88 L578.74,294.72 L578.99,294.59 L579.24,294.48 L579.48,294.53 L579.73,294.60 L579.98,294.70 L580.23,294.95 L580.47,294.97 L580.72,295.10 L580.97,295.18 L581.21,295.29 L581.46,295.71 L581.71,296.44 L581.96,297.32 L582.20,298.20 L582.45,299.13 L582.70,300.20 L582.95,301.32 L583.19,302.72 L583.44,304.31 L583.69,306.04 L583.94,307.82 L584.18,309.66 L584.43,311.43 L584.68,313.06 L584.93,314.67 L585.17,316.25 L585.42,317.81 L585.67,319.52 L585.92,321.14 L586.16,322.27 L586.41,322.60 L586.66,322.20 L586.91,321.12 L587.15,320.14 L587.40,319.07 L587.65,318.04 L587.90,316.98 L588.14,315.69 L588.39,314.38 L588.64,312.81 L588.89,311.22 L589.13,309.73 L589.38,308.24 L589.63,307.20 L589.87,306.41 L590.12,305.76 L590.37,305.18 L590.62,304.52 L590.86,303.98 L591.11,303.41 L591.36,302.84 L591.61,302.30 L591.85,301.83 L592.10,301.66 L592.35,301.63 L592.60,301.62 L592.84,301.53 L593.09,301.36 L593.34,301.16 L593.59,301.12 L593.83,300.94 L594.08,300.93 L594.33,300.75 L594.58,300.76 L594.82,300.76 L595.07,301.01 L595.32,301.32 L595.57,301.69 L595.81,301.86 L596.06,302.18 L596.31,302.34 L596.56,302.63 L596.80,302.84 L597.05,303.14 L597.30,303.59 L597.55,304.18 L597.79,304.84 L598.04,305.64 L598.29,306.28 L598.53,307.03 L598.78,307.64 L599.03,308.35 L599.28,309.02 L599.52,309.70 L599.77,310.37 L600.02,310.99 L600.27,311.45 L600.51,312.05 L600.76,312.62 L601.01,313.24 L601.26,313.74 L601.50,314.38 L601.75,314.92 L602.00,315.49 L602.25,316.05 L602.49,316.71 L602.74,317.32 L602.99,317.83 L603.24,318.36 L603.48,318.99 L603.73,319.49 L603.98,319.92 L604.23,320.15 L604.47,320.30 L604.72,320.47 L604.97,320.55 L605.22,320.76 L605.46,320.86 L605.71,321.08 L605.96,321.33 L606.21,321.52 L606.45,321.67 L606.70,321.91 L606.95,322.14 L607.19,322.41 L607.44,322.56 L607.69,322.90 L607.94,323.05 L608.18,323.17 L608.43,323.30 L608.68,323.50 L608.93,323.63 L609.17,323.75 L609.42,323.84 L609.67,324.08 L609.92,324.18 L610.16,324.31 L610.41,324.45 L610.66,324.63 L610.91,324.72 L611.15,324.96 L611.40,325.10 L611.65,325.26 L611.90,325.32 L612.14,325.44 L612.39,325.55 L612.64,325.69 L612.89,325.79 L613.13,326.01 L613.38,326.11 L613.63,326.21 L613.88,326.44 L614.12,326.57 L614.37,326.69 L614.62,326.81 L614.86,326.88 L615.11,327.03 L615.36,327.17 L615.61,327.24 L615.85,327.32 L616.10,327.33 L616.35,327.32 L616.60,327.39 L616.84,327.45 L617.09,327.51 L617.34,327.42 L617.59,327.32 L617.83,327.26 L618.08,327.26 L618.33,327.24 L618.58,327.31 L618.82,327.26 L619.07,327.30 L619.32,327.27 L619.57,327.23 L619.81,327.19 L620.06,327.25 L620.31,327.29 L620.56,327.27 L620.80,327.29 L621.05,327.28 L621.30,327.23 L621.55,327.18 L621.79,327.23 L622.04,327.24 L622.29,327.19 L622.54,327.16 L622.78,327.14 L623.03,327.10 L623.28,327.18 L623.52,327.17 L623.77,327.29 L624.02,327.38 L624.27,327.37 L624.51,327.44 L624.76,327.40 L625.01,327.47 L625.26,327.53 L625.50,327.44 L625.75,327.36 L626.00,327.28 L626.25,327.18 L626.49,327.28 L626.74,327.19 L626.99,327.25 L627.24,327.21 L627.48,327.19 L627.73,327.25 L627.98,327.34 L628.23,327.39 L628.47,327.41 L628.72,327.39 L628.97,327.40 L629.22,327.42 L629.46,327.35 L629.71,327.34 L629.96,327.36 L630.21,327.43 L630.45,327.32 L630.70,327.33 L630.95,327.26 L631.20,327.37 L631.44,327.33 L631.69,327.41 L631.94,327.40 L632.18,327.31 L632.43,327.27 L632.68,327.30 L632.93,327.37 L633.17,327.45 L633.42,327.46 L633.67,327.46 L633.92,327.50 L634.16,327.56 L634.41,327.55 L634.66,327.65 L634.91,327.77 L635.15,327.70 L635.40,327.68 L635.65,327.57 L635.90,327.61 L636.14,327.55 L636.39,327.54 L636.64,327.58 L636.89,327.49 L637.13,327.38 L637.38,327.44 L637.63,327.46 L637.88,327.53 L638.12,327.58 L638.37,327.61 L638.62,327.61 L638.87,327.70 L639.11,327.65 L639.36,327.69 L639.61,327.60 L639.86,327.57 L640.10,327.55 L640.35,327.54 L640.60,327.49 L640.84,327.45 L641.09,327.40 L641.34,327.45 L641.59,327.47 L641.83,327.52 L642.08,327.46 L642.33,327.41 L642.58,327.43 L642.82,327.39 L643.07,327.40 L643.32,327.36 L643.57,327.41 L643.81,327.37 L644.06,327.46 L644.31,327.50 L644.56,327.59 L644.80,327.57 L645.05,327.67 L645.30,327.65 L645.55,327.68 L645.79,327.64 L646.04,327.59 L646.29,327.57 L646.54,327.62 L646.78,327.63 L647.03,327.54 L647.28,327.51 L647.53,327.59 L647.77,327.65 L648.02,327.64 L648.27,327.75 L648.52,327.81 L648.76,327.77 L649.01,327.74 L649.26,327.79 L649.50,327.72 L649.75,327.68 L650.00,327.71 L650.25,327.70 L650.49,327.66 L650.74,327.63 L650.99,327.68 L651.24,327.71 L651.48,327.72 L651.73,327.78 L651.98,327.80 L652.23,327.76 L652.47,327.81 L652.72,327.86 L652.97,327.73 L653.22,327.75 L653.46,327.72 L653.71,327.73 L653.96,327.72 L654.21,327.75 L654.45,327.72 L654.70,327.75 L654.95,327.68 L655.20,327.77 L655.44,327.79 L655.69,327.87 L655.94,327.85 L656.19,327.88 L656.43,327.84 L656.68,327.84 L656.93,327.82 L657.17,327.91 L657.42,327.93 L657.67,327.95 L657.92,327.97 L658.16,327.93 L658.41,327.94 L658.66,327.94 L658.91,327.88 L659.15,327.83 L659.40,327.76 L659.65,327.81 L659.90,327.76 L660.14,327.68 L660.39,327.74 L660.64,327.70 L660.89,327.73 L661.13,327.80 L661.38,327.78 L661.63,327.78 L661.88,327.86 L662.12,327.88 L662.37,327.89 L662.62,327.92 L662.87,327.92 L663.11,327.92 L663.36,327.96 L663.61,327.97 L663.86,327.96 L664.10,327.80 L664.35,327.76 L664.60,327.75 L664.85,327.74 L665.09,327.83 L665.34,327.84 L665.59,327.85 L665.83,327.97 L666.08,327.98 L666.33,328.01 L666.58,328.01 L666.82,328.06 L667.07,328.04 L667.32,327.99 L667.57,328.05 L667.81,328.00 L668.06,327.89 L668.31,327.93 L668.56,327.93 L668.80,327.93 L669.05,327.91 L669.30,327.97 L669.55,327.96 L669.79,327.88 L670.04,327.86 L670.29,327.95 L670.54,327.94 L670.78,327.89 L671.03,327.91 L671.28,327.99 L671.53,327.87 L671.77,327.84 L672.02,327.86 L672.27,327.84 L672.52,327.91 L672.76,327.85 L673.01,327.84 L673.26,327.83 L673.51,327.80 L673.75,327.91 L674.00,328.00" fill="none" stroke="#f53232" stroke-width="1.0" stroke-linejoin="round" opacity="1"/>
<path d="M496.10,340.58 L496.35,340.77 L496.59,340.36 L496.84,340.13 L497.09,340.10 L497.34,340.22 L497.58,340.00 L497.83,340.04 L498.08,339.84 L498.33,340.18 L498.57,340.18 L498.82,340.05 L499.07,340.14 L499.32,340.50 L499.56,340.45 L499.81,340.45 L500.06,340.19 L500.31,340.51 L500.55,340.52 L500.80,340.54 L501.05,340.54 L501.30,340.55 L501.54,340.56 L501.79,340.77 L502.04,340.68 L502.29,340.87 L502.53,340.85 L502.78,340.81 L503.03,340.96 L503.28,340.91 L503.52,340.79 L503.77,340.80 L504.02,340.69 L504.27,340.47 L504.51,340.43 L504.76,340.29 L505.01,340.30 L505.25,340.49 L505.50,340.34 L505.75,340.24 L506.00,340.40 L506.24,340.42 L506.49,340.51 L506.74,340.43 L506.99,340.30 L507.23,340.35 L507.48,340.34 L507.73,340.23 L507.98,340.20 L508.22,340.26 L508.47,340.58 L508.72,340.60 L508.97,340.78 L509.21,340.87 L509.46,340.78 L509.71,340.81 L509.96,340.86 L510.20,340.81 L510.45,340.71 L510.70,340.79 L510.95,340.70 L511.19,340.78 L511.44,340.72 L511.69,340.74 L511.94,340.64 L512.18,340.82 L512.43,340.38 L512.68,340.45 L512.93,340.51 L513.17,340.63 L513.42,340.44 L513.67,340.52 L513.91,340.37 L514.16,340.45 L514.41,340.29 L514.66,340.43 L514.90,340.43 L515.15,340.40 L515.40,340.39 L515.65,340.44 L515.89,340.57 L516.14,340.59 L516.39,340.41 L516.64,340.35 L516.88,340.44 L517.13,340.28 L517.38,340.40 L517.63,340.55 L517.87,340.61 L518.12,340.70 L518.37,340.54 L518.62,340.57 L518.86,340.53 L519.11,340.42 L519.36,340.29 L519.61,340.35 L519.85,340.41 L520.10,340.48 L520.35,340.40 L520.60,340.52 L520.84,340.54 L521.09,340.54 L521.34,340.55 L521.58,340.37 L521.83,340.51 L522.08,340.56 L522.33,340.61 L522.57,340.74 L522.82,340.67 L523.07,340.60 L523.32,340.61 L523.56,340.44 L523.81,340.17 L524.06,340.14 L524.31,339.92 L524.55,340.00 L524.80,339.80 L525.05,339.65 L525.30,339.47 L525.54,339.38 L525.79,339.07 L526.04,338.84 L526.29,338.48 L526.53,338.52 L526.78,338.30 L527.03,338.35 L527.28,338.50 L527.52,338.82 L527.77,339.15 L528.02,339.50 L528.27,339.80 L528.51,340.21 L528.76,340.62 L529.01,340.83 L529.26,340.70 L529.50,340.89 L529.75,341.18 L530.00,341.49 L530.24,342.04 L530.49,342.62 L530.74,343.58 L530.99,344.66 L531.23,345.66 L531.48,346.36 L531.73,347.11 L531.98,347.18 L532.22,347.07 L532.47,346.51 L532.72,345.78 L532.97,344.70 L533.21,343.97 L533.46,343.04 L533.71,342.53 L533.96,342.01 L534.20,341.75 L534.45,341.68 L534.70,341.74 L534.95,341.64 L535.19,341.81 L535.44,342.02 L535.69,342.39 L535.94,342.47 L536.18,342.59 L536.43,342.87 L536.68,342.94 L536.93,342.94 L537.17,342.90 L537.42,342.61 L537.67,342.67 L537.92,342.35 L538.16,341.96 L538.41,341.64 L538.66,341.37 L538.90,341.28 L539.15,341.11 L539.40,340.90 L539.65,340.81 L539.89,340.89 L540.14,340.96 L540.39,340.87 L540.64,340.88 L540.88,340.86 L541.13,340.81 L541.38,340.87 L541.63,340.81 L541.87,340.82 L542.12,340.74 L542.37,340.61 L542.62,340.65 L542.86,340.63 L543.11,340.60 L543.36,340.70 L543.61,340.62 L543.85,340.75 L544.10,340.74 L544.35,340.59 L544.60,340.44 L544.84,340.52 L545.09,340.41 L545.34,340.50 L545.59,340.33 L545.83,340.28 L546.08,340.41 L546.33,340.58 L546.58,340.63 L546.82,340.61 L547.07,340.69 L547.32,341.01 L547.56,340.81 L547.81,340.88 L548.06,340.78 L548.31,340.71 L548.55,340.69 L548.80,340.50 L549.05,340.25 L549.30,340.52 L549.54,340.41 L549.79,340.52 L550.04,340.43 L550.29,340.62 L550.53,340.69 L550.78,340.98 L551.03,340.86 L551.28,340.93 L551.52,340.97 L551.77,340.88 L552.02,340.58 L552.27,340.65 L552.51,340.56 L552.76,340.76 L553.01,340.76 L553.26,340.75 L553.50,340.77 L553.75,340.82 L554.00,340.92 L554.25,340.76 L554.49,340.60 L554.74,340.38 L554.99,340.26 L555.24,340.22 L555.48,340.30 L555.73,340.30 L555.98,340.38 L556.22,340.42 L556.47,340.55 L556.72,340.62 L556.97,340.67 L557.21,340.59 L557.46,340.65 L557.71,340.50 L557.96,340.43 L558.20,340.33 L558.45,340.40 L558.70,340.48 L558.95,340.40 L559.19,340.07 L559.44,340.31 L559.69,340.42 L559.94,340.63 L560.18,340.51 L560.43,340.62 L560.68,340.86 L560.93,341.05 L561.17,340.79 L561.42,340.53 L561.67,340.32 L561.92,340.35 L562.16,340.12 L562.41,339.89 L562.66,339.83 L562.91,339.90 L563.15,339.96 L563.40,340.19 L563.65,340.21 L563.89,340.43 L564.14,340.62 L564.39,340.76 L564.64,340.84 L564.88,340.94 L565.13,340.68 L565.38,340.61 L565.63,340.47 L565.87,340.48 L566.12,340.41 L566.37,340.55 L566.62,340.67 L566.86,340.96 L567.11,341.03 L567.36,341.10 L567.61,340.96 L567.85,340.89 L568.10,340.66 L568.35,340.59 L568.60,340.47 L568.84,340.23 L569.09,339.95 L569.34,339.92 L569.59,339.87 L569.83,339.94 L570.08,340.02 L570.33,339.97 L570.58,340.04 L570.82,340.34 L571.07,340.50 L571.32,340.70 L571.57,340.64 L571.81,340.49 L572.06,340.51 L572.31,340.77 L572.55,340.80 L572.80,340.71 L573.05,340.62 L573.30,340.68 L573.54,340.69 L573.79,340.72 L574.04,340.53 L574.29,340.44 L574.53,340.47 L574.78,340.42 L575.03,340.60 L575.28,340.70 L575.52,340.70 L575.77,340.54 L576.02,340.42 L576.27,340.34 L576.51,340.27 L576.76,340.01 L577.01,339.89 L577.26,339.91 L577.50,340.05 L577.75,340.18 L578.00,340.22 L578.25,340.19 L578.49,340.23 L578.74,340.25 L578.99,340.27 L579.24,340.23 L579.48,340.05 L579.73,339.96 L579.98,340.08 L580.23,340.01 L580.47,340.11 L580.72,340.02 L580.97,340.14 L581.21,340.26 L581.46,340.40 L581.71,340.36 L581.96,340.55 L582.20,340.27 L582.45,340.40 L582.70,340.22 L582.95,340.27 L583.19,340.26 L583.44,340.24 L583.69,340.25 L583.94,340.45 L584.18,340.39 L584.43,340.47 L584.68,340.60 L584.93,340.66 L585.17,340.62 L585.42,340.49 L585.67,340.49 L585.92,340.41 L586.16,340.50 L586.41,340.49 L586.66,340.44 L586.91,340.63 L587.15,340.76 L587.40,340.64 L587.65,340.63 L587.90,340.67 L588.14,340.78 L588.39,340.68 L588.64,340.45 L588.89,340.54 L589.13,340.63 L589.38,340.77 L589.63,340.82 L589.87,340.55 L590.12,340.55 L590.37,340.58 L590.62,340.50 L590.86,340.58 L591.11,340.46 L591.36,340.41 L591.61,340.34 L591.85,340.40 L592.10,340.49 L592.35,340.44 L592.60,340.24 L592.84,340.28 L593.09,340.12 L593.34,340.43 L593.59,340.37 L593.83,340.32 L594.08,340.31 L594.33,340.49 L594.58,340.51 L594.82,340.66 L595.07,340.44 L595.32,340.57 L595.57,340.54 L595.81,340.62 L596.06,340.60 L596.31,340.69 L596.56,340.63 L596.80,340.58 L597.05,340.37 L597.30,340.39 L597.55,340.45 L597.79,340.39 L598.04,340.29 L598.29,340.42 L598.53,340.50 L598.78,340.64 L599.03,340.69 L599.28,340.50 L599.52,340.56 L599.77,340.66 L600.02,340.64 L600.27,340.66 L600.51,340.90 L600.76,340.91 L601.01,340.94 L601.26,340.85 L601.50,340.66 L601.75,340.64 L602.00,340.40 L602.25,340.11 L602.49,339.95 L602.74,339.96 L602.99,340.02 L603.24,339.99 L603.48,339.82 L603.73,340.21 L603.98,340.18 L604.23,340.31 L604.47,340.29 L604.72,340.37 L604.97,340.61 L605.22,340.79 L605.46,340.72 L605.71,340.83 L605.96,340.72 L606.21,340.87 L606.45,340.74 L606.70,340.54 L606.95,340.42 L607.19,340.29 L607.44,340.28 L607.69,340.46 L607.94,340.45 L608.18,340.50 L608.43,340.53 L608.68,340.53 L608.93,340.50 L609.17,340.39 L609.42,340.51 L609.67,340.32 L609.92,340.28 L610.16,340.40 L610.41,340.45 L610.66,340.63 L610.91,340.62 L611.15,340.33 L611.40,340.53 L611.65,340.51 L611.90,340.44 L612.14,340.43 L612.39,340.19 L612.64,340.25 L612.89,340.29 L613.13,340.22 L613.38,340.25 L613.63,340.05 L613.88,340.10 L614.12,340.04 L614.37,340.02 L614.62,340.01 L614.86,339.91 L615.11,339.93 L615.36,340.23 L615.61,340.08 L615.85,340.26 L616.10,340.37 L616.35,340.48 L616.60,340.61 L616.84,340.64 L617.09,340.53 L617.34,340.56 L617.59,340.58 L617.83,340.59 L618.08,340.68 L618.33,340.80 L618.58,340.67 L618.82,340.67 L619.07,340.72 L619.32,340.75 L619.57,340.56 L619.81,340.62 L620.06,340.58 L620.31,340.66 L620.56,340.64 L620.80,340.64 L621.05,340.54 L621.30,340.62 L621.55,340.48 L621.79,340.50 L622.04,340.60 L622.29,340.76 L622.54,340.66 L622.78,340.47 L623.03,340.63 L623.28,340.58 L623.52,340.42 L623.77,340.49 L624.02,340.28 L624.27,340.29 L624.51,340.52 L624.76,340.54 L625.01,340.62 L625.26,340.45 L625.50,340.45 L625.75,340.55 L626.00,340.68 L626.25,340.67 L626.49,340.70 L626.74,340.65 L626.99,340.94 L627.24,340.69 L627.48,340.76 L627.73,340.73 L627.98,340.78 L628.23,340.52 L628.47,340.41 L628.72,340.18 L628.97,340.21 L629.22,340.14 L629.46,340.19 L629.71,340.06 L629.96,340.04 L630.21,340.05 L630.45,340.00 L630.70,340.04 L630.95,340.02 L631.20,339.94 L631.44,340.13 L631.69,340.32 L631.94,340.45 L632.18,340.63 L632.43,340.72 L632.68,340.67 L632.93,340.60 L633.17,340.62 L633.42,340.58 L633.67,340.71 L633.92,340.67 L634.16,340.52 L634.41,340.62 L634.66,340.67 L634.91,340.52 L635.15,340.60 L635.40,340.57 L635.65,340.63 L635.90,340.66 L636.14,340.66 L636.39,340.69 L636.64,340.65 L636.89,340.60 L637.13,340.45 L637.38,340.53 L637.63,340.54 L637.88,340.51 L638.12,340.51 L638.37,340.48 L638.62,340.64 L638.87,340.41 L639.11,340.18 L639.36,340.20 L639.61,340.05 L639.86,340.10 L640.10,340.22 L640.35,339.99 L640.60,340.21 L640.84,340.33 L641.09,340.37 L641.34,340.51 L641.59,340.51 L641.83,340.63 L642.08,340.60 L642.33,340.53 L642.58,340.49 L642.82,340.51 L643.07,340.49 L643.32,340.41 L643.57,340.19 L643.81,340.40 L644.06,340.33 L644.31,340.52 L644.56,340.57 L644.80,340.71 L645.05,340.77 L645.30,340.96 L645.55,340.80 L645.79,340.98 L646.04,340.90 L646.29,340.97 L646.54,340.78 L646.78,340.80 L647.03,340.91 L647.28,341.01 L647.53,340.86 L647.77,340.81 L648.02,340.69 L648.27,340.81 L648.52,340.55 L648.76,340.48 L649.01,340.19 L649.26,340.50 L649.50,340.53 L649.75,340.50 L650.00,340.54 L650.25,340.77 L650.49,340.63 L650.74,340.78 L650.99,340.60 L651.24,340.46 L651.48,340.54 L651.73,340.59 L651.98,340.68 L652.23,340.85 L652.47,340.98 L652.72,341.01 L652.97,341.22 L653.22,341.16 L653.46,341.09 L653.71,341.12 L653.96,341.20 L654.21,341.04 L654.45,340.83 L654.70,340.91 L654.95,341.02 L655.20,341.16 L655.44,341.11 L655.69,340.94 L655.94,340.92 L656.19,340.96 L656.43,340.90 L656.68,340.88 L656.93,340.74 L657.17,340.54 L657.42,340.47 L657.67,340.47 L657.92,340.53 L658.16,340.11 L658.41,340.04 L658.66,340.16 L658.91,340.21 L659.15,340.27 L659.40,340.35 L659.65,340.29 L659.90,340.61 L660.14,340.51 L660.39,340.31 L660.64,340.39 L660.89,340.38 L661.13,340.37 L661.38,340.37 L661.63,340.40 L661.88,340.38 L662.12,340.50 L662.37,340.43 L662.62,340.32 L662.87,340.30 L663.11,340.29 L663.36,340.17 L663.61,340.26 L663.86,340.25 L664.10,340.38 L664.35,340.54 L664.60,340.52 L664.85,340.47 L665.09,340.50 L665.34,340.49 L665.59,340.40 L665.83,340.27 L666.08,340.17 L666.33,340.28 L666.58,340.29 L666.82,340.32 L667.07,340.47 L667.32,340.41 L667.57,340.36 L667.81,340.39 L668.06,340.28 L668.31,340.44 L668.56,340.57 L668.80,340.43 L669.05,340.56 L669.30,340.60 L669.55,340.58 L669.79,340.64 L670.04,340.55 L670.29,340.53 L670.54,340.51 L670.78,340.44 L671.03,340.39 L671.28,340.39 L671.53,340.27 L671.77,340.29 L672.02,340.00 L672.27,340.03 L672.52,340.22 L672.76,340.14 L673.01,340.35 L673.26,340.44 L673.51,340.57 L673.75,340.65 L674.00,340.85" fill="none" stroke="#333" stroke-width="0.9" stroke-linejoin="round" opacity="1"/>
<text font-size="7.5" text-anchor="end" fill="#000" font-weight="normal" stroke="#000" stroke-width="0.18" transform="translate(672.30 216.58) scale(1 1.08)">Co-N-C</text>
<text font-size="7.5" text-anchor="middle" fill="#000" font-weight="normal" stroke="#000" stroke-width="0.18" transform="translate(589.00 236.88) scale(1 1.08)">gaseous CO</text>
<text font-size="7.4" text-anchor="end" fill="#ff2222" font-weight="normal" stroke="#ff2222" stroke-width="0.18" transform="translate(672.30 257.78) scale(1 1.08)">CO+O<tspan font-size="7.6" dy="2.6">2</tspan></text>
<text font-size="7.5" text-anchor="end" fill="#000" font-weight="normal" stroke="#000" stroke-width="0.18" transform="translate(673.20 278.28) scale(1 1.08)">background</text>
<text font-size="7.5" text-anchor="end" fill="#000" font-weight="normal" stroke="#000" stroke-width="0.18" transform="translate(672.30 289.88) scale(1 1.08)">CoRu-N-C</text>
<text font-size="7.5" text-anchor="middle" fill="#000" font-weight="normal" stroke="#000" stroke-width="0.18" transform="translate(587.60 292.88) scale(1 1.08)">gaseous CO</text>
<text font-size="7.5" text-anchor="start" fill="#000" font-weight="normal" stroke="#000" stroke-width="0.18" transform="translate(527.20 300.78) scale(1 1.08)">CO<tspan font-size="6.5" dy="2.2">2</tspan></text>
<text font-size="7.4" text-anchor="end" fill="#ff2222" font-weight="normal" stroke="#ff2222" stroke-width="0.18" transform="translate(672.30 323.98) scale(1 1.08)">CO+O<tspan font-size="7.6" dy="2.6">2</tspan></text>
<text font-size="7.5" text-anchor="end" fill="#000" font-weight="normal" stroke="#000" stroke-width="0.18" transform="translate(673.20 348.28) scale(1 1.08)">background</text>
</svg></div></body></html>
